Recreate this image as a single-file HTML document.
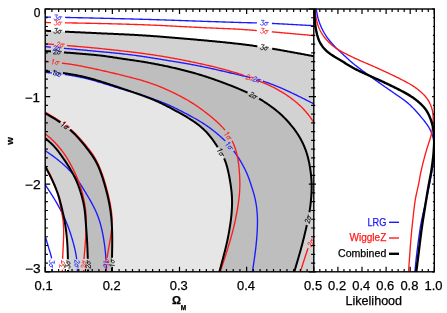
<!DOCTYPE html>
<html><head><meta charset="utf-8"><title>chart</title>
<style>html,body{margin:0;padding:0;background:#fff;}body{width:447px;height:313px;overflow:hidden;font-family:"Liberation Sans",sans-serif;}</style></head>
<body>
<svg width="447" height="313" viewBox="0 0 447 313" style="display:block;will-change:transform">
<rect width="447" height="313" fill="#fff"/>
<defs><clipPath id="cm"><rect x="45.2" y="9.0" width="268.6" height="262.8"/></clipPath><clipPath id="cr"><rect x="313.8" y="9.0" width="120.5" height="262.8"/></clipPath></defs>
<g clip-path="url(#cm)">
<path d="M45.00 30.75 L46.00 30.80 L47.00 30.84 L48.00 30.89 L49.00 30.93 L49.99 30.98 L50.99 31.03 L51.99 31.07 L52.99 31.12 L53.99 31.16 L54.99 31.21 L55.99 31.26 L56.99 31.30 L57.99 31.35 L58.99 31.39 L59.98 31.44 L60.98 31.49 L61.98 31.53 L62.98 31.58 L63.98 31.62 L64.98 31.67 L65.98 31.72 L66.98 31.76 L67.98 31.81 L68.97 31.85 L69.97 31.90 L70.97 31.95 L71.97 31.99 L72.97 32.04 L73.97 32.09 L74.97 32.13 L75.97 32.18 L76.97 32.22 L77.96 32.27 L78.96 32.32 L79.96 32.36 L80.96 32.41 L81.96 32.46 L82.96 32.50 L83.96 32.55 L84.96 32.60 L85.96 32.64 L86.96 32.69 L87.95 32.73 L88.95 32.78 L89.95 32.83 L90.95 32.87 L91.95 32.92 L92.95 32.97 L93.95 33.01 L94.95 33.06 L95.95 33.11 L96.94 33.15 L97.94 33.20 L98.94 33.25 L99.94 33.29 L100.94 33.34 L101.94 33.38 L102.94 33.43 L103.94 33.48 L104.94 33.52 L105.94 33.56 L106.93 33.61 L107.93 33.65 L108.93 33.70 L109.93 33.74 L110.93 33.78 L111.93 33.83 L112.93 33.87 L113.93 33.91 L114.93 33.96 L115.93 34.00 L116.92 34.04 L117.92 34.09 L118.92 34.13 L119.92 34.17 L120.92 34.22 L121.92 34.26 L122.92 34.31 L123.92 34.35 L124.92 34.40 L125.92 34.45 L126.91 34.49 L127.91 34.54 L128.91 34.59 L129.91 34.64 L130.91 34.69 L131.91 34.74 L132.91 34.80 L133.91 34.85 L134.90 34.90 L135.90 34.96 L136.90 35.02 L137.90 35.08 L138.90 35.13 L139.90 35.19 L140.89 35.26 L141.89 35.32 L142.89 35.38 L143.89 35.45 L144.88 35.51 L145.88 35.58 L146.88 35.65 L147.88 35.71 L148.88 35.78 L149.87 35.85 L150.87 35.92 L151.87 36.00 L152.87 36.07 L153.86 36.14 L154.86 36.22 L155.86 36.29 L156.85 36.37 L157.85 36.44 L158.85 36.52 L159.85 36.60 L160.84 36.67 L161.84 36.75 L162.84 36.83 L163.83 36.91 L164.83 36.99 L165.83 37.07 L166.82 37.15 L167.82 37.23 L168.82 37.31 L169.81 37.40 L170.81 37.48 L171.81 37.56 L172.80 37.64 L173.80 37.73 L174.80 37.81 L175.79 37.89 L176.79 37.98 L177.79 38.06 L178.78 38.15 L179.78 38.23 L180.77 38.32 L181.77 38.40 L182.77 38.49 L183.76 38.57 L184.76 38.66 L185.76 38.75 L186.75 38.83 L187.75 38.92 L188.74 39.01 L189.74 39.09 L190.74 39.18 L191.73 39.27 L192.73 39.36 L193.73 39.44 L194.72 39.53 L195.72 39.62 L196.71 39.71 L197.71 39.80 L198.71 39.89 L199.70 39.98 L200.70 40.07 L201.69 40.16 L202.69 40.25 L203.69 40.34 L204.68 40.43 L205.68 40.52 L206.67 40.61 L207.67 40.70 L208.67 40.79 L209.66 40.88 L210.66 40.98 L211.65 41.07 L212.65 41.16 L213.64 41.26 L214.64 41.35 L215.63 41.44 L216.63 41.54 L217.63 41.64 L218.62 41.73 L219.62 41.83 L220.61 41.93 L221.61 42.03 L222.60 42.13 L223.60 42.23 L224.59 42.33 L225.59 42.43 L226.58 42.53 L227.58 42.64 L228.57 42.74 L229.56 42.85 L230.56 42.95 L231.55 43.06 L232.55 43.17 L233.54 43.28 L234.53 43.39 L235.53 43.50 L236.52 43.62 L237.51 43.73 L238.51 43.85 L239.50 43.96 L240.49 44.08 L241.49 44.20 L242.48 44.32 L243.47 44.44 L244.46 44.57 L245.46 44.69 L246.45 44.82 L247.44 44.95 L248.43 45.08 L249.42 45.21 L250.41 45.34 L251.40 45.48 L252.40 45.61 L253.39 45.75 L254.38 45.89 L255.37 46.03 L256.36 46.18 L257.34 46.32 L258.33 46.47 L259.32 46.62 L260.31 46.77 L261.30 46.92 L262.29 47.07 L263.28 47.22 L264.26 47.38 L265.25 47.53 L266.24 47.69 L267.23 47.85 L268.21 48.01 L269.20 48.17 L270.19 48.34 L271.17 48.50 L272.16 48.67 L273.15 48.83 L274.13 49.00 L275.12 49.17 L276.10 49.34 L277.09 49.51 L278.07 49.68 L279.06 49.85 L280.04 50.02 L281.03 50.20 L282.01 50.37 L283.00 50.55 L283.98 50.72 L284.97 50.90 L285.95 51.08 L286.93 51.25 L287.92 51.43 L288.90 51.61 L289.89 51.79 L290.87 51.97 L291.85 52.15 L292.84 52.33 L293.82 52.51 L294.80 52.69 L295.79 52.87 L296.77 53.05 L297.75 53.23 L298.74 53.42 L299.72 53.60 L300.70 53.78 L301.68 53.96 L302.66 54.14 L303.64 54.32 L304.62 54.50 L305.59 54.68 L306.57 54.86 L307.54 55.04 L308.51 55.22 L309.47 55.40 L310.44 55.58 L311.40 55.76 L312.36 55.93 L313.32 56.11 L313.80 56.20 L330.00 56.00 L330.00 290.00 L67.30 290.00 L68.00 272.00 L68.00 272.00 L67.99 271.03 L67.99 270.06 L67.98 269.09 L67.97 268.11 L67.97 267.13 L67.96 266.15 L67.95 265.17 L67.94 264.18 L67.93 263.20 L67.92 262.20 L67.91 261.21 L67.90 260.22 L67.88 259.22 L67.86 258.22 L67.85 257.22 L67.82 256.23 L67.80 255.23 L67.77 254.23 L67.74 253.23 L67.71 252.23 L67.68 251.23 L67.64 250.23 L67.59 249.23 L67.55 248.23 L67.50 247.23 L67.44 246.24 L67.39 245.24 L67.32 244.24 L67.26 243.24 L67.19 242.25 L67.12 241.25 L67.04 240.25 L66.96 239.26 L66.87 238.26 L66.78 237.26 L66.69 236.27 L66.59 235.27 L66.48 234.28 L66.38 233.29 L66.26 232.29 L66.14 231.30 L66.02 230.31 L65.89 229.32 L65.76 228.33 L65.62 227.34 L65.48 226.35 L65.33 225.36 L65.17 224.37 L65.01 223.39 L64.84 222.40 L64.67 221.42 L64.49 220.43 L64.31 219.45 L64.12 218.47 L63.92 217.49 L63.72 216.51 L63.52 215.53 L63.31 214.56 L63.09 213.58 L62.87 212.60 L62.65 211.63 L62.43 210.65 L62.20 209.68 L61.97 208.71 L61.74 207.74 L61.50 206.76 L61.27 205.79 L61.03 204.82 L60.78 203.85 L60.54 202.88 L60.29 201.92 L60.03 200.95 L59.77 199.99 L59.50 199.03 L59.22 198.07 L58.94 197.11 L58.64 196.16 L58.33 195.21 L58.02 194.26 L57.69 193.32 L57.36 192.38 L57.01 191.45 L56.65 190.52 L56.29 189.59 L55.92 188.66 L55.54 187.74 L55.15 186.81 L54.76 185.89 L54.37 184.98 L53.96 184.06 L53.56 183.15 L53.15 182.24 L52.73 181.33 L52.31 180.43 L51.88 179.52 L51.45 178.62 L51.01 177.72 L50.57 176.83 L50.12 175.93 L49.67 175.04 L49.22 174.15 L48.76 173.26 L48.29 172.38 L47.83 171.49 L47.36 170.61 L46.89 169.72 L46.42 168.84 L45.95 167.96 L45.47 167.08 L45.00 166.20Z" fill="#d2d2d2"/>
<path d="M45.00 51.00 L46.00 51.07 L46.99 51.15 L47.99 51.22 L48.99 51.30 L49.99 51.37 L50.98 51.45 L51.98 51.52 L52.98 51.60 L53.97 51.67 L54.97 51.75 L55.97 51.82 L56.97 51.89 L57.96 51.97 L58.96 52.04 L59.96 52.12 L60.96 52.19 L61.95 52.27 L62.95 52.34 L63.95 52.41 L64.94 52.49 L65.94 52.56 L66.94 52.64 L67.94 52.71 L68.93 52.79 L69.93 52.87 L70.93 52.94 L71.92 53.02 L72.92 53.10 L73.92 53.17 L74.92 53.25 L75.91 53.33 L76.91 53.41 L77.91 53.48 L78.90 53.56 L79.90 53.64 L80.90 53.72 L81.89 53.80 L82.89 53.89 L83.89 53.97 L84.88 54.05 L85.88 54.14 L86.88 54.22 L87.87 54.31 L88.87 54.40 L89.86 54.49 L90.86 54.58 L91.86 54.67 L92.85 54.77 L93.85 54.86 L94.84 54.96 L95.84 55.06 L96.83 55.17 L97.82 55.27 L98.82 55.38 L99.81 55.50 L100.80 55.61 L101.80 55.73 L102.79 55.86 L103.78 55.98 L104.77 56.11 L105.76 56.24 L106.75 56.38 L107.74 56.52 L108.73 56.66 L109.72 56.80 L110.71 56.95 L111.70 57.10 L112.69 57.25 L113.68 57.40 L114.67 57.55 L115.66 57.70 L116.64 57.85 L117.63 58.01 L118.62 58.16 L119.61 58.31 L120.60 58.46 L121.59 58.61 L122.58 58.75 L123.56 58.90 L124.55 59.04 L125.54 59.19 L126.53 59.33 L127.52 59.48 L128.51 59.62 L129.50 59.76 L130.49 59.90 L131.48 60.05 L132.47 60.19 L133.46 60.33 L134.45 60.48 L135.44 60.63 L136.43 60.77 L137.42 60.92 L138.41 61.07 L139.39 61.23 L140.38 61.38 L141.37 61.54 L142.36 61.70 L143.34 61.86 L144.33 62.02 L145.32 62.19 L146.30 62.36 L147.29 62.53 L148.27 62.70 L149.26 62.87 L150.24 63.05 L151.22 63.23 L152.21 63.41 L153.19 63.59 L154.17 63.77 L155.16 63.96 L156.14 64.15 L157.12 64.34 L158.10 64.53 L159.08 64.72 L160.06 64.92 L161.04 65.11 L162.02 65.31 L163.00 65.51 L163.98 65.71 L164.96 65.92 L165.94 66.13 L166.92 66.33 L167.90 66.54 L168.87 66.76 L169.85 66.97 L170.83 67.19 L171.80 67.41 L172.78 67.63 L173.75 67.86 L174.72 68.08 L175.70 68.31 L176.67 68.54 L177.64 68.77 L178.62 69.01 L179.59 69.24 L180.56 69.48 L181.53 69.73 L182.50 69.97 L183.47 70.21 L184.44 70.46 L185.40 70.71 L186.37 70.96 L187.34 71.22 L188.31 71.47 L189.27 71.73 L190.24 71.99 L191.20 72.25 L192.17 72.52 L193.13 72.78 L194.09 73.05 L195.06 73.32 L196.02 73.60 L196.98 73.87 L197.94 74.15 L198.90 74.44 L199.86 74.72 L200.81 75.01 L201.77 75.30 L202.72 75.60 L203.68 75.90 L204.63 76.20 L205.58 76.50 L206.53 76.81 L207.48 77.12 L208.43 77.44 L209.38 77.76 L210.33 78.08 L211.27 78.41 L212.22 78.73 L213.16 79.06 L214.10 79.40 L215.05 79.73 L215.99 80.07 L216.93 80.40 L217.87 80.74 L218.81 81.08 L219.75 81.43 L220.69 81.77 L221.63 82.12 L222.56 82.46 L223.50 82.81 L224.44 83.16 L225.37 83.51 L226.31 83.87 L227.24 84.22 L228.18 84.58 L229.11 84.94 L230.04 85.30 L230.97 85.66 L231.90 86.03 L232.83 86.40 L233.76 86.77 L234.69 87.15 L235.62 87.52 L236.54 87.90 L237.46 88.29 L238.39 88.67 L239.31 89.06 L240.23 89.45 L241.15 89.85 L242.06 90.25 L242.98 90.65 L243.89 91.05 L244.81 91.46 L245.72 91.87 L246.63 92.28 L247.53 92.70 L248.44 93.13 L249.34 93.55 L250.24 93.99 L251.14 94.42 L252.04 94.87 L252.93 95.32 L253.82 95.77 L254.71 96.23 L255.59 96.70 L256.47 97.18 L257.34 97.66 L258.21 98.15 L259.08 98.65 L259.94 99.15 L260.80 99.66 L261.65 100.18 L262.50 100.70 L263.35 101.24 L264.19 101.77 L265.03 102.32 L265.86 102.87 L266.69 103.42 L267.52 103.98 L268.34 104.55 L269.16 105.12 L269.98 105.70 L270.79 106.29 L271.59 106.87 L272.40 107.47 L273.20 108.07 L273.99 108.67 L274.78 109.28 L275.57 109.90 L276.35 110.53 L277.12 111.16 L277.89 111.80 L278.65 112.44 L279.40 113.09 L280.15 113.75 L280.89 114.42 L281.63 115.10 L282.36 115.78 L283.08 116.47 L283.79 117.17 L284.50 117.87 L285.19 118.59 L285.89 119.31 L286.57 120.03 L287.25 120.77 L287.92 121.51 L288.58 122.25 L289.24 123.01 L289.89 123.76 L290.53 124.53 L291.17 125.29 L291.81 126.07 L292.43 126.84 L293.05 127.63 L293.66 128.42 L294.26 129.21 L294.86 130.01 L295.45 130.82 L296.03 131.63 L296.59 132.45 L297.15 133.27 L297.70 134.11 L298.24 134.95 L298.76 135.79 L299.28 136.65 L299.78 137.51 L300.27 138.37 L300.75 139.25 L301.23 140.12 L301.69 141.01 L302.14 141.90 L302.58 142.79 L303.01 143.69 L303.43 144.60 L303.83 145.51 L304.23 146.42 L304.61 147.34 L304.98 148.27 L305.34 149.20 L305.69 150.13 L306.02 151.07 L306.34 152.02 L306.65 152.96 L306.94 153.92 L307.23 154.87 L307.50 155.83 L307.76 156.79 L308.01 157.76 L308.25 158.73 L308.49 159.70 L308.71 160.67 L308.92 161.65 L309.12 162.63 L309.32 163.61 L309.50 164.59 L309.68 165.57 L309.85 166.55 L310.01 167.54 L310.17 168.53 L310.31 169.51 L310.45 170.50 L310.59 171.49 L310.71 172.49 L310.83 173.48 L310.94 174.47 L311.05 175.46 L311.15 176.46 L311.24 177.45 L311.32 178.45 L311.40 179.44 L311.47 180.44 L311.52 181.44 L311.57 182.43 L311.61 183.43 L311.64 184.43 L311.66 185.43 L311.67 186.42 L311.67 187.42 L311.66 188.42 L311.64 189.42 L311.62 190.42 L311.58 191.41 L311.53 192.41 L311.48 193.41 L311.42 194.41 L311.36 195.40 L311.29 196.40 L311.21 197.40 L311.13 198.39 L311.04 199.39 L310.95 200.38 L310.85 201.38 L310.75 202.37 L310.65 203.37 L310.53 204.36 L310.42 205.35 L310.29 206.34 L310.16 207.34 L310.03 208.33 L309.89 209.31 L309.74 210.30 L309.58 211.29 L309.42 212.28 L309.25 213.26 L309.07 214.24 L308.89 215.23 L308.71 216.21 L308.52 217.19 L308.32 218.17 L308.12 219.15 L307.91 220.13 L307.71 221.11 L307.50 222.08 L307.28 223.06 L307.07 224.04 L306.85 225.01 L306.63 225.99 L306.41 226.96 L306.18 227.94 L305.96 228.91 L305.73 229.89 L305.51 230.86 L305.28 231.83 L305.05 232.81 L304.82 233.78 L304.58 234.75 L304.35 235.72 L304.11 236.69 L303.87 237.67 L303.63 238.64 L303.39 239.61 L303.15 240.58 L302.90 241.55 L302.65 242.51 L302.40 243.48 L302.15 244.45 L301.89 245.42 L301.63 246.38 L301.37 247.35 L301.11 248.31 L300.85 249.28 L300.58 250.24 L300.31 251.20 L300.04 252.17 L299.77 253.13 L299.50 254.09 L299.22 255.05 L298.95 256.01 L298.67 256.97 L298.39 257.93 L298.11 258.89 L297.83 259.85 L297.55 260.80 L297.27 261.75 L296.99 262.70 L296.71 263.65 L296.43 264.59 L296.15 265.53 L295.87 266.47 L295.59 267.40 L295.31 268.32 L295.03 269.25 L294.75 270.17 L294.48 271.08 L294.20 272.00 L294.20 272.00 L294.00 290.00 L87.50 290.00 L88.00 272.00 L87.99 271.52 L87.98 270.56 L87.97 269.61 L87.96 268.64 L87.94 267.68 L87.93 266.71 L87.91 265.74 L87.90 264.76 L87.88 263.78 L87.86 262.79 L87.84 261.80 L87.82 260.81 L87.80 259.82 L87.77 258.82 L87.75 257.82 L87.72 256.83 L87.69 255.83 L87.66 254.83 L87.63 253.83 L87.59 252.83 L87.56 251.83 L87.52 250.83 L87.48 249.83 L87.44 248.83 L87.40 247.83 L87.36 246.84 L87.31 245.84 L87.27 244.84 L87.22 243.84 L87.17 242.84 L87.11 241.84 L87.06 240.84 L87.00 239.85 L86.94 238.85 L86.88 237.85 L86.82 236.85 L86.75 235.85 L86.69 234.86 L86.62 233.86 L86.55 232.86 L86.48 231.86 L86.41 230.87 L86.33 229.87 L86.26 228.87 L86.19 227.87 L86.11 226.88 L86.04 225.88 L85.96 224.88 L85.89 223.88 L85.82 222.89 L85.74 221.89 L85.67 220.89 L85.59 219.90 L85.51 218.90 L85.43 217.90 L85.35 216.91 L85.27 215.91 L85.18 214.92 L85.08 213.92 L84.98 212.93 L84.88 211.93 L84.76 210.94 L84.63 209.95 L84.50 208.96 L84.35 207.98 L84.20 206.99 L84.03 206.01 L83.85 205.03 L83.66 204.05 L83.46 203.07 L83.24 202.10 L83.02 201.13 L82.79 200.15 L82.55 199.19 L82.30 198.22 L82.04 197.25 L81.78 196.29 L81.51 195.33 L81.24 194.37 L80.96 193.41 L80.67 192.45 L80.37 191.50 L80.07 190.55 L79.76 189.60 L79.44 188.65 L79.11 187.71 L78.78 186.77 L78.43 185.83 L78.08 184.90 L77.71 183.97 L77.34 183.04 L76.95 182.12 L76.56 181.21 L76.15 180.30 L75.74 179.39 L75.31 178.48 L74.88 177.58 L74.44 176.69 L73.99 175.80 L73.53 174.91 L73.07 174.03 L72.59 173.15 L72.11 172.27 L71.62 171.40 L71.13 170.53 L70.62 169.67 L70.11 168.81 L69.59 167.96 L69.07 167.11 L68.54 166.26 L68.00 165.42 L67.46 164.58 L66.91 163.74 L66.36 162.91 L65.81 162.08 L65.25 161.25 L64.69 160.42 L64.13 159.60 L63.56 158.77 L63.00 157.95 L62.43 157.13 L61.86 156.31 L61.28 155.49 L60.70 154.68 L60.11 153.87 L59.52 153.06 L58.93 152.26 L58.32 151.47 L57.71 150.68 L57.09 149.90 L56.46 149.13 L55.82 148.37 L55.17 147.61 L54.51 146.87 L53.84 146.13 L53.15 145.41 L52.46 144.70 L51.75 144.00 L51.03 143.31 L50.30 142.63 L49.57 141.97 L48.82 141.31 L48.06 140.66 L47.30 140.01 L46.54 139.37 L45.77 138.73 L45.00 138.10Z" fill="#bebebe"/>
<path d="M45.00 71.10 L45.99 71.20 L46.99 71.31 L47.98 71.41 L48.98 71.52 L49.97 71.62 L50.97 71.73 L51.96 71.83 L52.96 71.94 L53.95 72.05 L54.94 72.15 L55.94 72.26 L56.93 72.37 L57.93 72.49 L58.92 72.60 L59.91 72.72 L60.91 72.83 L61.90 72.95 L62.89 73.08 L63.88 73.20 L64.87 73.34 L65.86 73.47 L66.85 73.61 L67.84 73.75 L68.83 73.90 L69.82 74.05 L70.81 74.21 L71.79 74.37 L72.78 74.54 L73.76 74.71 L74.75 74.89 L75.73 75.07 L76.71 75.26 L77.69 75.45 L78.67 75.65 L79.65 75.86 L80.63 76.07 L81.60 76.28 L82.58 76.50 L83.55 76.73 L84.52 76.96 L85.49 77.20 L86.46 77.44 L87.43 77.68 L88.40 77.93 L89.37 78.19 L90.33 78.45 L91.30 78.71 L92.26 78.98 L93.22 79.26 L94.18 79.53 L95.14 79.81 L96.10 80.10 L97.06 80.38 L98.01 80.67 L98.97 80.96 L99.93 81.26 L100.88 81.55 L101.84 81.85 L102.79 82.15 L103.74 82.45 L104.70 82.76 L105.65 83.06 L106.60 83.37 L107.55 83.68 L108.50 83.99 L109.45 84.30 L110.40 84.61 L111.35 84.92 L112.30 85.24 L113.25 85.55 L114.20 85.87 L115.15 86.19 L116.09 86.51 L117.04 86.82 L117.99 87.14 L118.94 87.46 L119.89 87.78 L120.83 88.10 L121.78 88.41 L122.73 88.73 L123.68 89.05 L124.63 89.37 L125.58 89.69 L126.52 90.00 L127.47 90.32 L128.42 90.64 L129.37 90.96 L130.31 91.28 L131.26 91.60 L132.21 91.92 L133.15 92.24 L134.10 92.57 L135.05 92.89 L135.99 93.22 L136.93 93.55 L137.88 93.88 L138.82 94.22 L139.76 94.55 L140.70 94.89 L141.64 95.23 L142.58 95.58 L143.52 95.92 L144.46 96.27 L145.39 96.62 L146.33 96.97 L147.26 97.33 L148.20 97.69 L149.13 98.05 L150.06 98.42 L150.99 98.79 L151.91 99.16 L152.84 99.54 L153.76 99.92 L154.68 100.31 L155.60 100.71 L156.52 101.11 L157.43 101.51 L158.34 101.92 L159.25 102.34 L160.16 102.76 L161.06 103.18 L161.96 103.61 L162.86 104.05 L163.76 104.49 L164.66 104.93 L165.55 105.38 L166.44 105.84 L167.33 106.29 L168.22 106.75 L169.10 107.22 L169.99 107.68 L170.87 108.15 L171.75 108.62 L172.63 109.10 L173.51 109.58 L174.39 110.05 L175.26 110.54 L176.14 111.02 L177.02 111.50 L177.89 111.99 L178.76 112.48 L179.63 112.97 L180.51 113.46 L181.38 113.95 L182.24 114.44 L183.11 114.94 L183.98 115.44 L184.84 115.95 L185.70 116.45 L186.56 116.96 L187.42 117.48 L188.27 117.99 L189.13 118.52 L189.97 119.05 L190.82 119.58 L191.66 120.12 L192.49 120.67 L193.32 121.22 L194.15 121.78 L194.97 122.35 L195.78 122.93 L196.59 123.52 L197.39 124.11 L198.18 124.72 L198.97 125.33 L199.74 125.96 L200.51 126.59 L201.27 127.24 L202.03 127.89 L202.77 128.56 L203.50 129.23 L204.22 129.92 L204.93 130.61 L205.64 131.32 L206.33 132.04 L207.01 132.76 L207.68 133.50 L208.33 134.25 L208.98 135.01 L209.62 135.77 L210.24 136.55 L210.86 137.34 L211.46 138.13 L212.06 138.93 L212.65 139.73 L213.23 140.54 L213.80 141.36 L214.37 142.18 L214.93 143.01 L215.49 143.84 L216.05 144.67 L216.60 145.50 L217.15 146.33 L217.70 147.17 L218.24 148.01 L218.79 148.85 L219.32 149.69 L219.85 150.53 L220.38 151.38 L220.89 152.23 L221.40 153.09 L221.89 153.96 L222.37 154.83 L222.83 155.71 L223.28 156.59 L223.71 157.48 L224.12 158.39 L224.51 159.30 L224.89 160.22 L225.24 161.14 L225.58 162.08 L225.90 163.02 L226.21 163.96 L226.50 164.91 L226.78 165.87 L227.04 166.83 L227.30 167.79 L227.55 168.76 L227.79 169.73 L228.02 170.70 L228.24 171.67 L228.46 172.65 L228.67 173.63 L228.87 174.60 L229.07 175.58 L229.26 176.56 L229.45 177.55 L229.62 178.53 L229.80 179.51 L229.97 180.50 L230.13 181.48 L230.29 182.47 L230.44 183.46 L230.59 184.45 L230.74 185.44 L230.88 186.43 L231.01 187.42 L231.14 188.41 L231.27 189.40 L231.38 190.39 L231.49 191.38 L231.59 192.38 L231.69 193.37 L231.77 194.36 L231.84 195.36 L231.90 196.35 L231.96 197.35 L232.00 198.35 L232.03 199.35 L232.05 200.34 L232.06 201.34 L232.06 202.34 L232.06 203.34 L232.04 204.34 L232.02 205.34 L231.98 206.33 L231.94 207.33 L231.90 208.33 L231.84 209.33 L231.78 210.33 L231.72 211.32 L231.64 212.32 L231.56 213.32 L231.48 214.31 L231.38 215.31 L231.28 216.30 L231.18 217.29 L231.06 218.29 L230.95 219.28 L230.82 220.27 L230.69 221.26 L230.56 222.25 L230.42 223.24 L230.28 224.23 L230.13 225.22 L229.98 226.21 L229.82 227.19 L229.66 228.18 L229.50 229.17 L229.33 230.15 L229.16 231.14 L228.99 232.12 L228.81 233.11 L228.63 234.09 L228.45 235.07 L228.26 236.06 L228.07 237.04 L227.87 238.02 L227.68 239.00 L227.47 239.98 L227.27 240.95 L227.05 241.93 L226.84 242.91 L226.62 243.88 L226.39 244.86 L226.16 245.83 L225.93 246.80 L225.70 247.77 L225.46 248.75 L225.22 249.72 L224.97 250.69 L224.73 251.65 L224.48 252.62 L224.23 253.59 L223.98 254.56 L223.73 255.53 L223.47 256.49 L223.22 257.46 L222.96 258.42 L222.71 259.38 L222.45 260.35 L222.20 261.30 L221.94 262.26 L221.68 263.21 L221.43 264.16 L221.17 265.10 L220.92 266.04 L220.67 266.97 L220.42 267.89 L220.17 268.81 L219.92 269.73 L219.67 270.64 L219.42 271.55 L219.30 272.00 L220.00 290.00 L112.00 290.00 L112.00 272.00 L112.00 271.51 L112.00 270.54 L112.00 269.56 L111.99 268.59 L111.99 267.61 L111.99 266.63 L111.99 265.64 L111.99 264.66 L112.00 263.67 L112.00 262.68 L112.00 261.68 L112.01 260.69 L112.02 259.69 L112.02 258.69 L112.03 257.70 L112.05 256.70 L112.06 255.70 L112.07 254.70 L112.09 253.70 L112.10 252.70 L112.12 251.70 L112.14 250.70 L112.15 249.70 L112.17 248.70 L112.19 247.70 L112.20 246.70 L112.21 245.70 L112.22 244.70 L112.23 243.70 L112.24 242.70 L112.24 241.70 L112.24 240.70 L112.24 239.70 L112.24 238.70 L112.23 237.70 L112.22 236.70 L112.21 235.70 L112.19 234.70 L112.17 233.70 L112.15 232.70 L112.12 231.70 L112.09 230.70 L112.05 229.71 L112.02 228.71 L111.97 227.71 L111.93 226.71 L111.88 225.71 L111.82 224.71 L111.76 223.72 L111.69 222.72 L111.62 221.72 L111.55 220.72 L111.47 219.73 L111.38 218.73 L111.28 217.74 L111.19 216.74 L111.08 215.75 L110.97 214.76 L110.85 213.76 L110.73 212.77 L110.60 211.78 L110.46 210.79 L110.32 209.80 L110.17 208.81 L110.01 207.83 L109.85 206.84 L109.68 205.86 L109.50 204.87 L109.32 203.89 L109.13 202.91 L108.94 201.93 L108.74 200.95 L108.53 199.97 L108.32 199.00 L108.10 198.02 L107.88 197.05 L107.65 196.07 L107.42 195.10 L107.18 194.13 L106.94 193.16 L106.69 192.19 L106.44 191.22 L106.19 190.26 L105.93 189.29 L105.67 188.33 L105.40 187.36 L105.13 186.40 L104.86 185.44 L104.58 184.48 L104.30 183.52 L104.02 182.56 L103.73 181.60 L103.44 180.64 L103.14 179.69 L102.84 178.74 L102.54 177.78 L102.23 176.83 L101.91 175.89 L101.59 174.94 L101.27 174.00 L100.93 173.05 L100.59 172.12 L100.24 171.18 L99.88 170.25 L99.52 169.32 L99.14 168.40 L98.75 167.48 L98.36 166.56 L97.94 165.66 L97.52 164.76 L97.08 163.86 L96.63 162.97 L96.17 162.09 L95.69 161.22 L95.20 160.35 L94.70 159.49 L94.18 158.64 L93.65 157.80 L93.11 156.96 L92.56 156.13 L92.01 155.30 L91.44 154.48 L90.86 153.66 L90.28 152.85 L89.69 152.05 L89.10 151.24 L88.50 150.44 L87.89 149.65 L87.29 148.85 L86.68 148.06 L86.06 147.27 L85.44 146.49 L84.82 145.70 L84.20 144.92 L83.57 144.15 L82.94 143.37 L82.30 142.60 L81.66 141.83 L81.02 141.07 L80.37 140.31 L79.71 139.55 L79.05 138.80 L78.39 138.06 L77.72 137.32 L77.04 136.58 L76.36 135.85 L75.67 135.13 L74.97 134.42 L74.27 133.71 L73.55 133.02 L72.83 132.33 L72.10 131.65 L71.37 130.98 L70.62 130.31 L69.87 129.66 L69.11 129.01 L68.34 128.38 L67.56 127.75 L66.78 127.13 L65.99 126.52 L65.20 125.92 L64.40 125.32 L63.59 124.73 L62.78 124.15 L61.96 123.57 L61.14 123.01 L60.31 122.44 L59.48 121.89 L58.65 121.34 L57.81 120.79 L56.97 120.25 L56.13 119.72 L55.28 119.19 L54.43 118.66 L53.58 118.14 L52.73 117.62 L51.87 117.10 L51.01 116.58 L50.16 116.07 L49.30 115.55 L48.44 115.04 L47.58 114.53 L46.72 114.02 L45.86 113.51 L45.00 113.00Z" fill="#e6e6e6"/>
<path d="M45.00 17.00 L46.00 17.02 L47.00 17.04 L48.00 17.06 L49.00 17.09 L50.00 17.11 L51.00 17.13" fill="none" stroke="#1a1aff" stroke-width="1.35" stroke-linejoin="round"/>
<path d="M65.00 17.43 L66.00 17.45 L67.00 17.47 L67.99 17.49 L68.99 17.51 L69.99 17.53 L70.99 17.55 L71.99 17.58 L72.99 17.60 L73.99 17.62 L74.99 17.64 L75.99 17.66 L76.99 17.68 L77.99 17.71 L78.99 17.73 L79.99 17.75 L80.99 17.77 L81.99 17.79 L82.99 17.81 L83.99 17.84 L84.99 17.86 L85.99 17.88 L86.99 17.90 L87.99 17.93 L88.99 17.95 L89.99 17.97 L90.99 17.99 L91.99 18.02 L92.99 18.04 L93.99 18.06 L94.99 18.08 L95.99 18.11 L96.99 18.13 L97.99 18.15 L98.99 18.18 L99.99 18.20 L100.99 18.22 L101.99 18.25 L102.99 18.27 L103.99 18.30 L104.99 18.32 L105.99 18.34 L106.98 18.37 L107.98 18.39 L108.98 18.42 L109.98 18.44 L110.98 18.46 L111.98 18.49 L112.98 18.51 L113.98 18.54 L114.98 18.56 L115.98 18.59 L116.98 18.61 L117.98 18.64 L118.98 18.66 L119.98 18.69 L120.98 18.71 L121.98 18.74 L122.98 18.76 L123.98 18.79 L124.98 18.81 L125.98 18.84 L126.98 18.86 L127.98 18.89 L128.98 18.92 L129.98 18.94 L130.98 18.97 L131.98 19.00 L132.98 19.02 L133.98 19.05 L134.98 19.08 L135.98 19.10 L136.98 19.13 L137.97 19.16 L138.97 19.19 L139.97 19.21 L140.97 19.24 L141.97 19.27 L142.97 19.30 L143.97 19.33 L144.97 19.36 L145.97 19.39 L146.97 19.41 L147.97 19.44 L148.97 19.47 L149.97 19.50 L150.97 19.53 L151.97 19.56 L152.97 19.60 L153.97 19.63 L154.97 19.66 L155.97 19.69 L156.97 19.72 L157.97 19.75 L158.97 19.79 L159.96 19.82 L160.96 19.85 L161.96 19.88 L162.96 19.92 L163.96 19.95 L164.96 19.98 L165.96 20.02 L166.96 20.05 L167.96 20.09 L168.96 20.12 L169.96 20.15 L170.96 20.19 L171.96 20.22 L172.96 20.26 L173.96 20.29 L174.96 20.33 L175.96 20.36 L176.95 20.40 L177.95 20.43 L178.95 20.47 L179.95 20.50 L180.95 20.54 L181.95 20.57 L182.95 20.61 L183.95 20.64 L184.95 20.68 L185.95 20.71 L186.95 20.75 L187.95 20.78 L188.95 20.82 L189.95 20.85 L190.95 20.89 L191.95 20.92 L192.95 20.96 L193.94 20.99 L194.94 21.03 L195.94 21.06 L196.94 21.09 L197.94 21.13 L198.94 21.16 L199.94 21.20 L200.94 21.23 L201.94 21.26 L202.94 21.30 L203.94 21.33 L204.94 21.36 L205.94 21.40 L206.94 21.43 L207.94 21.46 L208.94 21.50 L209.94 21.53 L210.93 21.56 L211.93 21.60 L212.93 21.63 L213.93 21.66 L214.93 21.69 L215.93 21.73 L216.93 21.76 L217.93 21.79 L218.93 21.83 L219.93 21.86 L220.93 21.89 L221.93 21.92 L222.93 21.96 L223.93 21.99 L224.93 22.02 L225.93 22.05 L226.93 22.09 L227.93 22.12 L228.93 22.15 L229.92 22.18 L230.92 22.21 L231.92 22.24 L232.92 22.28 L233.92 22.31 L234.92 22.34 L235.92 22.37 L236.92 22.40 L237.92 22.43 L238.92 22.46 L239.92 22.49 L240.92 22.52 L241.92 22.55 L242.92 22.57 L243.92 22.60 L244.92 22.63 L245.92 22.65 L246.92 22.68 L247.92 22.71 L248.92 22.73 L249.92 22.76 L250.92 22.78 L251.92 22.81 L252.92 22.83 L253.92 22.86 L254.91 22.88 L255.91 22.91 L256.91 22.93" fill="none" stroke="#1a1aff" stroke-width="1.35" stroke-linejoin="round"/>
<path d="M271.90 23.45 L272.90 23.49 L273.90 23.54 L274.90 23.58 L275.90 23.63 L276.90 23.68 L277.90 23.73 L278.90 23.78 L279.90 23.83 L280.89 23.88 L281.89 23.93 L282.89 23.98 L283.89 24.03 L284.89 24.08 L285.89 24.14 L286.89 24.19 L287.88 24.24 L288.88 24.30 L289.88 24.35 L290.88 24.41 L291.88 24.46 L292.88 24.52 L293.88 24.57 L294.87 24.63 L295.87 24.69 L296.87 24.74 L297.87 24.80 L298.87 24.85 L299.87 24.91 L300.86 24.97 L301.86 25.02 L302.86 25.08 L303.86 25.14 L304.85 25.19 L305.85 25.25 L306.84 25.31 L307.84 25.36 L308.83 25.42 L309.83 25.48 L310.82 25.53 L311.81 25.59 L312.81 25.64 L313.80 25.70 L313.80 25.70" fill="none" stroke="#1a1aff" stroke-width="1.35" stroke-linejoin="round"/>

<path d="M45.00 46.60 L46.00 46.69 L46.99 46.78 L47.99 46.87 L48.98 46.96 L49.98 47.05 L50.98 47.14" fill="none" stroke="#1a1aff" stroke-width="1.35" stroke-linejoin="round"/>
<path d="M63.92 48.30 L64.92 48.39 L65.92 48.48 L66.91 48.57 L67.91 48.66 L68.90 48.75 L69.90 48.84 L70.90 48.93 L71.89 49.02 L72.89 49.11 L73.88 49.20 L74.88 49.29 L75.88 49.38 L76.87 49.47 L77.87 49.56 L78.86 49.65 L79.86 49.74 L80.85 49.83 L81.85 49.92 L82.85 50.01 L83.84 50.10 L84.84 50.19 L85.83 50.28 L86.83 50.37 L87.83 50.47 L88.82 50.56 L89.82 50.65 L90.81 50.74 L91.81 50.83 L92.80 50.93 L93.80 51.02 L94.80 51.11 L95.79 51.21 L96.79 51.30 L97.78 51.39 L98.78 51.49 L99.77 51.58 L100.77 51.68 L101.76 51.77 L102.76 51.86 L103.76 51.96 L104.75 52.05 L105.75 52.15 L106.74 52.24 L107.74 52.34 L108.73 52.44 L109.73 52.53 L110.72 52.63 L111.72 52.73 L112.71 52.82 L113.71 52.92 L114.70 53.02 L115.70 53.12 L116.69 53.22 L117.69 53.32 L118.68 53.43 L119.68 53.53 L120.67 53.64 L121.67 53.75 L122.66 53.86 L123.65 53.97 L124.65 54.08 L125.64 54.19 L126.63 54.31 L127.63 54.43 L128.62 54.55 L129.61 54.67 L130.60 54.79 L131.60 54.92 L132.59 55.05 L133.58 55.18 L134.57 55.31 L135.56 55.45 L136.55 55.58 L137.54 55.72 L138.53 55.86 L139.52 56.00 L140.51 56.15 L141.50 56.29 L142.49 56.44 L143.48 56.59 L144.47 56.74 L145.46 56.89 L146.44 57.04 L147.43 57.19 L148.42 57.35 L149.41 57.51 L150.40 57.66 L151.38 57.82 L152.37 57.98 L153.36 58.14 L154.34 58.30 L155.33 58.46 L156.32 58.62 L157.31 58.78 L158.29 58.94 L159.28 59.11 L160.27 59.27 L161.25 59.43 L162.24 59.59 L163.23 59.75 L164.21 59.91 L165.20 60.07 L166.19 60.24 L167.17 60.40 L168.16 60.56 L169.15 60.72 L170.14 60.88 L171.12 61.04 L172.11 61.20 L173.10 61.36 L174.08 61.52 L175.07 61.68 L176.06 61.84 L177.05 62.00 L178.03 62.16 L179.02 62.32 L180.01 62.49 L180.99 62.65 L181.98 62.82 L182.96 62.99 L183.95 63.15 L184.93 63.32 L185.92 63.49 L186.90 63.67 L187.89 63.84 L188.87 64.02 L189.86 64.19 L190.84 64.37 L191.83 64.55 L192.81 64.74 L193.79 64.92 L194.77 65.11 L195.76 65.30 L196.74 65.49 L197.72 65.68 L198.70 65.88 L199.68 66.07 L200.66 66.27 L201.64 66.47 L202.62 66.67 L203.60 66.88 L204.58 67.08 L205.55 67.29 L206.53 67.50 L207.51 67.71 L208.49 67.92 L209.46 68.13 L210.44 68.34 L211.42 68.56 L212.39 68.77 L213.37 68.99 L214.35 69.21 L215.32 69.43 L216.30 69.64 L217.27 69.86 L218.25 70.08 L219.22 70.31 L220.20 70.53 L221.18 70.75 L222.15 70.97 L223.12 71.19 L224.10 71.42 L225.07 71.64 L226.05 71.87 L227.02 72.09 L228.00 72.32 L228.97 72.54 L229.95 72.77 L230.92 73.00 L231.89 73.22 L232.87 73.45 L233.84 73.68 L234.81 73.91 L235.79 74.13 L236.76 74.36 L237.74 74.59 L238.71 74.82 L239.68 75.05 L240.66 75.28 L241.63 75.51 L242.60 75.74 L243.57 75.97 L244.55 76.21 L245.52 76.44 L246.49 76.67 L247.46 76.91 L248.43 77.15 L249.40 77.39 L250.37 77.64" fill="none" stroke="#1a1aff" stroke-width="1.35" stroke-linejoin="round"/>
<path d="M262.87 81.18 L263.82 81.49 L264.77 81.80 L265.72 82.11 L266.67 82.43 L267.62 82.75 L268.56 83.08 L269.50 83.42 L270.44 83.76 L271.38 84.10 L272.32 84.45 L273.25 84.81 L274.18 85.17 L275.11 85.54 L276.04 85.91 L276.96 86.28 L277.89 86.67 L278.81 87.05 L279.73 87.44 L280.65 87.84 L281.57 88.24 L282.48 88.64 L283.39 89.04 L284.31 89.45 L285.22 89.87 L286.13 90.28 L287.04 90.70 L287.94 91.12 L288.85 91.54 L289.76 91.96 L290.66 92.39 L291.56 92.82 L292.47 93.25 L293.37 93.68 L294.27 94.11 L295.17 94.54 L296.07 94.98 L296.97 95.42 L297.87 95.86 L298.77 96.29 L299.66 96.74 L300.56 97.18 L301.46 97.62 L302.35 98.06 L303.24 98.51 L304.13 98.95 L305.02 99.40 L305.91 99.84 L306.80 100.28 L307.68 100.73 L308.56 101.17 L309.44 101.61 L310.31 102.05 L311.19 102.49 L312.06 102.92 L312.93 103.36 L313.80 103.80 L313.80 103.80" fill="none" stroke="#1a1aff" stroke-width="1.35" stroke-linejoin="round"/>

<path d="M45.00 72.30 L45.99 72.40 L46.99 72.51 L47.98 72.61 L48.98 72.72 L49.97 72.82 L50.97 72.93 L51.96 73.03" fill="none" stroke="#1a1aff" stroke-width="1.35" stroke-linejoin="round"/>
<path d="M64.87 74.54 L65.86 74.67 L66.85 74.81 L67.84 74.95 L68.83 75.10 L69.82 75.25 L70.81 75.41 L71.79 75.57 L72.78 75.74 L73.76 75.91 L74.74 76.09 L75.73 76.28 L76.71 76.47 L77.69 76.66 L78.67 76.86 L79.65 77.06 L80.62 77.27 L81.60 77.49 L82.58 77.70 L83.55 77.93 L84.52 78.16 L85.50 78.39 L86.47 78.62 L87.44 78.87 L88.41 79.11 L89.37 79.36 L90.34 79.61 L91.31 79.87 L92.27 80.13 L93.24 80.40 L94.20 80.67 L95.16 80.94 L96.12 81.21 L97.09 81.49 L98.05 81.77 L99.00 82.05 L99.96 82.33 L100.92 82.62 L101.88 82.90 L102.84 83.19 L103.79 83.48 L104.75 83.78 L105.71 84.07 L106.66 84.37 L107.62 84.66 L108.57 84.96 L109.52 85.26 L110.48 85.56 L111.43 85.86 L112.39 86.16 L113.34 86.46 L114.29 86.76 L115.25 87.06 L116.20 87.36 L117.16 87.66 L118.11 87.95 L119.07 88.25 L120.02 88.54 L120.98 88.83 L121.94 89.11 L122.90 89.40 L123.86 89.68 L124.82 89.96 L125.78 90.23 L126.74 90.51 L127.70 90.78 L128.66 91.06 L129.62 91.33 L130.59 91.60 L131.55 91.88 L132.51 92.15 L133.47 92.43 L134.43 92.71 L135.39 92.99 L136.35 93.28 L137.30 93.57 L138.26 93.86 L139.21 94.16 L140.17 94.46 L141.12 94.76 L142.07 95.07 L143.02 95.39 L143.96 95.71 L144.91 96.03 L145.86 96.35 L146.80 96.68 L147.74 97.01 L148.69 97.35 L149.63 97.68 L150.57 98.02 L151.51 98.36 L152.45 98.70 L153.39 99.04 L154.33 99.38 L155.27 99.72 L156.21 100.06 L157.15 100.41 L158.09 100.75 L159.03 101.10 L159.96 101.45 L160.90 101.80 L161.83 102.16 L162.76 102.52 L163.69 102.89 L164.61 103.27 L165.54 103.65 L166.45 104.04 L167.37 104.43 L168.29 104.84 L169.20 105.24 L170.11 105.66 L171.01 106.08 L171.92 106.51 L172.82 106.94 L173.72 107.37 L174.62 107.81 L175.51 108.25 L176.41 108.69 L177.30 109.14 L178.20 109.59 L179.09 110.04 L179.98 110.50 L180.87 110.95 L181.76 111.41 L182.65 111.87 L183.54 112.33 L184.42 112.79 L185.31 113.25 L186.19 113.72 L187.08 114.18 L187.96 114.65 L188.84 115.12 L189.73 115.60 L190.61 116.07 L191.49 116.55 L192.36 117.03 L193.24 117.51 L194.11 117.99 L194.99 118.48 L195.86 118.97 L196.73 119.46 L197.59 119.96 L198.46 120.46 L199.32 120.97 L200.18 121.48 L201.03 122.00 L201.88 122.53 L202.73 123.06 L203.57 123.59 L204.41 124.14 L205.24 124.69 L206.06 125.25 L206.89 125.82 L207.70 126.39 L208.52 126.97 L209.32 127.56 L210.13 128.15 L210.93 128.75 L211.72 129.36 L212.51 129.97 L213.30 130.59 L214.08 131.21 L214.86 131.83 L215.63 132.46 L216.41 133.10 L217.18 133.74 L217.94 134.38 L218.70 135.03 L219.46 135.68 L220.21 136.33 L220.96 136.99 L221.71 137.66 L222.45 138.33 L223.18 139.01 L223.91 139.69 L224.63 140.38 L225.34 141.08" fill="none" stroke="#1a1aff" stroke-width="1.35" stroke-linejoin="round"/>
<path d="M233.75 150.93 L234.34 151.73 L234.92 152.55 L235.50 153.36 L236.07 154.18 L236.63 155.01 L237.19 155.84 L237.74 156.67 L238.28 157.51 L238.82 158.35 L239.35 159.20 L239.87 160.05 L240.39 160.90 L240.89 161.76 L241.39 162.63 L241.89 163.50 L242.37 164.37 L242.85 165.25 L243.33 166.13 L243.79 167.01 L244.25 167.90 L244.70 168.79 L245.14 169.68 L245.57 170.58 L246.00 171.49 L246.42 172.39 L246.82 173.30 L247.22 174.22 L247.60 175.14 L247.98 176.06 L248.34 176.99 L248.69 177.92 L249.04 178.86 L249.37 179.80 L249.70 180.74 L250.02 181.68 L250.34 182.63 L250.65 183.58 L250.96 184.53 L251.27 185.48 L251.58 186.43 L251.88 187.38 L252.18 188.33 L252.48 189.28 L252.78 190.24 L253.07 191.19 L253.36 192.15 L253.64 193.11 L253.91 194.07 L254.18 195.03 L254.43 195.99 L254.67 196.96 L254.91 197.93 L255.13 198.90 L255.34 199.88 L255.54 200.86 L255.73 201.84 L255.91 202.82 L256.08 203.80 L256.24 204.79 L256.39 205.77 L256.52 206.76 L256.65 207.75 L256.77 208.74 L256.88 209.74 L256.97 210.73 L257.06 211.72 L257.14 212.72 L257.21 213.72 L257.27 214.71 L257.32 215.71 L257.37 216.71 L257.40 217.70 L257.43 218.70 L257.45 219.70 L257.46 220.70 L257.46 221.70 L257.46 222.70 L257.44 223.70 L257.43 224.70 L257.40 225.70 L257.37 226.69 L257.34 227.69 L257.30 228.69 L257.26 229.69 L257.21 230.69 L257.15 231.69 L257.10 232.69 L257.04 233.68 L256.98 234.68 L256.91 235.68 L256.84 236.68 L256.77 237.67 L256.69 238.67 L256.61 239.67 L256.52 240.66 L256.43 241.66 L256.34 242.65 L256.24 243.65 L256.14 244.64 L256.03 245.64 L255.92 246.63 L255.81 247.62 L255.69 248.62 L255.57 249.61 L255.45 250.60 L255.32 251.59 L255.19 252.59 L255.06 253.58 L254.93 254.57 L254.80 255.56 L254.66 256.55 L254.53 257.54 L254.39 258.52 L254.25 259.51 L254.11 260.49 L253.97 261.48 L253.82 262.45 L253.68 263.43 L253.54 264.40 L253.40 265.37 L253.25 266.33 L253.11 267.28 L252.97 268.23 L252.82 269.18 L252.68 270.12 L252.54 271.06 L252.40 272.00 L252.40 272.00" fill="none" stroke="#1a1aff" stroke-width="1.35" stroke-linejoin="round"/>

<path d="M45.00 150.60 L45.83 151.15 L46.67 151.70 L47.50 152.26 L48.33 152.81 L49.16 153.37 L49.98 153.94 L50.80 154.51 L51.62 155.08 L52.43 155.66 L53.24 156.25 L54.04 156.84 L54.84 157.44 L55.64 158.05 L56.43 158.66 L57.21 159.28 L57.99 159.90 L58.77 160.53 L59.54 161.16 L60.31 161.80 L61.07 162.44 L61.83 163.09 L62.59 163.75 L63.34 164.41 L64.08 165.07 L64.82 165.75 L65.55 166.42 L66.28 167.11 L67.00 167.80 L67.71 168.50 L68.42 169.20 L69.12 169.92 L69.81 170.64 L70.49 171.36 L71.17 172.10 L71.83 172.84 L72.49 173.59 L73.14 174.35 L73.78 175.11 L74.41 175.89 L75.04 176.66 L75.65 177.45 L76.26 178.24 L76.86 179.04 L77.44 179.85 L78.03 180.66 L78.60 181.48 L79.16 182.30 L79.72 183.13 L80.27 183.96 L80.82 184.80 L81.36 185.64 L81.89 186.48 L82.42 187.33 L82.95 188.18 L83.47 189.03 L83.99 189.89 L84.51 190.74 L85.03 191.60 L85.54 192.45 L86.06 193.31 L86.57 194.17 L87.08 195.03 L87.59 195.89 L88.10 196.75 L88.61 197.61 L89.12 198.47 L89.62 199.34 L90.12 200.20 L90.61 201.07 L91.11 201.94 L91.59 202.81 L92.07 203.69 L92.55 204.57 L93.01 205.45 L93.47 206.34 L93.92 207.23 L94.37 208.12 L94.80 209.02 L95.23 209.92 L95.65 210.83 L96.05 211.74 L96.45 212.66 L96.84 213.58 L97.21 214.50 L97.58 215.43 L97.93 216.36 L98.28 217.30 L98.61 218.24 L98.94 219.18 L99.25 220.13 L99.55 221.08 L99.85 222.03 L100.13 222.99 L100.40 223.95 L100.67 224.91 L100.92 225.88 L101.17 226.85 L101.41 227.81 L101.64 228.79 L101.87 229.76 L102.09 230.74 L102.30 231.71 L102.50 232.69 L102.70 233.67 L102.89 234.65 L103.07 235.63 L103.25 236.62 L103.43 237.60 L103.59 238.59 L103.76 239.57 L103.91 240.56 L104.06 241.55 L104.21 242.54 L104.35 243.52 L104.49 244.51 L104.62 245.51 L104.75 246.50 L104.88 247.49 L104.99 248.48 L105.11 249.47 L105.21 250.47 L105.32 251.46 L105.41 252.46 L105.50 253.45 L105.59 254.45 L105.67 255.44 L105.74 256.44 L105.81 257.43 L105.87 258.43 L105.93 259.42" fill="none" stroke="#1a1aff" stroke-width="1.35" stroke-linejoin="round"/>
<path d="M106.25 269.16 L106.26 270.11 L106.28 271.06 L106.30 272.00 L106.30 272.00" fill="none" stroke="#1a1aff" stroke-width="1.35" stroke-linejoin="round"/>

<path d="M45.00 184.50 L45.56 185.33 L46.11 186.16 L46.67 186.99 L47.22 187.83 L47.78 188.66 L48.33 189.49 L48.88 190.33 L49.43 191.16 L49.97 192.00 L50.52 192.84 L51.06 193.68 L51.60 194.52 L52.13 195.36 L52.67 196.21 L53.19 197.06 L53.72 197.91 L54.24 198.76 L54.76 199.62 L55.27 200.48 L55.77 201.34 L56.28 202.20 L56.78 203.07 L57.27 203.94 L57.76 204.81 L58.25 205.68 L58.74 206.56 L59.22 207.43 L59.69 208.31 L60.16 209.19 L60.63 210.08 L61.09 210.96 L61.55 211.85 L62.01 212.74 L62.45 213.63 L62.90 214.53 L63.33 215.43 L63.76 216.33 L64.19 217.23 L64.60 218.14 L65.01 219.05 L65.41 219.97 L65.80 220.89 L66.19 221.81 L66.57 222.73 L66.94 223.66 L67.31 224.59 L67.67 225.52 L68.02 226.46 L68.37 227.39 L68.71 228.33 L69.04 229.27 L69.37 230.22 L69.70 231.16 L70.02 232.11 L70.33 233.06 L70.64 234.01 L70.95 234.96 L71.25 235.91 L71.54 236.87 L71.83 237.83 L72.12 238.78 L72.40 239.74 L72.68 240.70 L72.95 241.67 L73.21 242.63 L73.47 243.59 L73.73 244.56 L73.98 245.53 L74.23 246.50 L74.47 247.47 L74.70 248.44 L74.93 249.41 L75.15 250.38 L75.36 251.36 L75.56 252.34 L75.76 253.32 L75.94 254.30 L76.11 255.28 L76.28 256.26 L76.43 257.25 L76.56 258.23 L76.69 259.22" fill="none" stroke="#1a1aff" stroke-width="1.35" stroke-linejoin="round"/>
<path d="M77.40 269.07 L77.43 270.05 L77.47 271.02 L77.50 272.00 L77.50 272.00" fill="none" stroke="#1a1aff" stroke-width="1.35" stroke-linejoin="round"/>

<path d="M45.00 235.40 L45.28 236.36 L45.56 237.32 L45.85 238.28 L46.13 239.24 L46.41 240.20 L46.69 241.16 L46.97 242.12 L47.26 243.08 L47.54 244.03 L47.82 244.99 L48.10 245.95 L48.39 246.91 L48.68 247.87 L48.97 248.83 L49.26 249.78 L49.56 250.74 L49.86 251.69 L50.15 252.64 L50.45 253.60 L50.72 254.56 L50.98 255.52 L51.22 256.49 L51.43 257.46 L51.60 258.44" fill="none" stroke="#1a1aff" stroke-width="1.35" stroke-linejoin="round"/>
<path d="M52.26 269.27 L52.27 270.20 L52.29 271.10 L52.30 272.00 L52.30 272.00" fill="none" stroke="#1a1aff" stroke-width="1.35" stroke-linejoin="round"/>

<path d="M45.00 22.50 L46.00 22.52 L47.00 22.53 L48.00 22.55 L49.00 22.57 L50.00 22.58 L51.00 22.60" fill="none" stroke="#ff1a1a" stroke-width="1.35" stroke-linejoin="round"/>
<path d="M65.00 22.83 L66.00 22.85 L67.00 22.87 L68.00 22.88 L69.00 22.90 L70.00 22.92 L71.00 22.94 L72.00 22.95 L73.00 22.97 L74.00 22.99 L75.00 23.01 L76.00 23.02 L77.00 23.04 L78.00 23.06 L79.00 23.08 L79.99 23.10 L80.99 23.11 L81.99 23.13 L82.99 23.15 L83.99 23.17 L84.99 23.19 L85.99 23.21 L86.99 23.23 L87.99 23.25 L88.99 23.27 L89.99 23.29 L90.99 23.31 L91.99 23.33 L92.99 23.35 L93.99 23.37 L94.99 23.39 L95.99 23.41 L96.99 23.44 L97.99 23.46 L98.99 23.48 L99.99 23.50 L100.99 23.53 L101.99 23.55 L102.99 23.58 L103.99 23.60 L104.99 23.62 L105.99 23.65 L106.99 23.67 L107.99 23.70 L108.99 23.72 L109.99 23.75 L110.99 23.77 L111.99 23.80 L112.99 23.82 L113.99 23.85 L114.99 23.88 L115.99 23.90 L116.99 23.93 L117.99 23.96 L118.98 23.98 L119.98 24.01 L120.98 24.04 L121.98 24.07 L122.98 24.10 L123.98 24.12 L124.98 24.15 L125.98 24.18 L126.98 24.21 L127.98 24.24 L128.98 24.27 L129.98 24.30 L130.98 24.33 L131.98 24.37 L132.98 24.40 L133.98 24.43 L134.98 24.46 L135.98 24.50 L136.98 24.53 L137.98 24.56 L138.98 24.60 L139.97 24.63 L140.97 24.67 L141.97 24.70 L142.97 24.74 L143.97 24.78 L144.97 24.81 L145.97 24.85 L146.97 24.89 L147.97 24.93 L148.97 24.97 L149.97 25.01 L150.97 25.05 L151.97 25.09 L152.96 25.14 L153.96 25.18 L154.96 25.22 L155.96 25.27 L156.96 25.31 L157.96 25.36 L158.96 25.40 L159.96 25.45 L160.96 25.50 L161.96 25.54 L162.95 25.59 L163.95 25.64 L164.95 25.69 L165.95 25.74 L166.95 25.79 L167.95 25.84 L168.95 25.89 L169.95 25.94 L170.94 25.99 L171.94 26.04 L172.94 26.09 L173.94 26.15 L174.94 26.20 L175.94 26.25 L176.94 26.30 L177.93 26.36 L178.93 26.41 L179.93 26.46 L180.93 26.51 L181.93 26.57 L182.93 26.62 L183.93 26.67 L184.92 26.73 L185.92 26.78 L186.92 26.83 L187.92 26.88 L188.92 26.93 L189.92 26.99 L190.92 27.04 L191.92 27.09 L192.91 27.14 L193.91 27.19 L194.91 27.24 L195.91 27.29 L196.91 27.34 L197.91 27.39 L198.91 27.44 L199.91 27.48 L200.90 27.53 L201.90 27.58 L202.90 27.62 L203.90 27.67 L204.90 27.72 L205.90 27.76 L206.90 27.80 L207.90 27.85 L208.90 27.89 L209.90 27.93 L210.89 27.98 L211.89 28.02 L212.89 28.06 L213.89 28.10 L214.89 28.14 L215.89 28.19 L216.89 28.23 L217.89 28.27 L218.89 28.31 L219.89 28.35 L220.89 28.39 L221.88 28.43 L222.88 28.48 L223.88 28.52 L224.88 28.56 L225.88 28.61 L226.88 28.65 L227.88 28.70 L228.88 28.74 L229.88 28.79 L230.88 28.84 L231.87 28.89 L232.87 28.94 L233.87 28.99 L234.87 29.04 L235.87 29.09 L236.87 29.15 L237.87 29.20 L238.86 29.26 L239.86 29.32 L240.86 29.38 L241.86 29.44 L242.86 29.51 L243.85 29.57 L244.85 29.64 L245.85 29.71 L246.85 29.78 L247.84 29.85 L248.84 29.92 L249.84 30.00 L250.84 30.07 L251.83 30.15 L252.83 30.23 L253.83 30.31 L254.82 30.39 L255.82 30.47 L256.82 30.55" fill="none" stroke="#ff1a1a" stroke-width="1.35" stroke-linejoin="round"/>
<path d="M271.76 31.84 L272.76 31.93 L273.75 32.01 L274.75 32.10 L275.75 32.19 L276.74 32.28 L277.74 32.36 L278.73 32.45 L279.73 32.54 L280.73 32.63 L281.72 32.71 L282.72 32.80 L283.72 32.89 L284.71 32.98 L285.71 33.07 L286.70 33.16 L287.70 33.25 L288.70 33.34 L289.69 33.42 L290.69 33.51 L291.68 33.60 L292.68 33.69 L293.68 33.78 L294.67 33.87 L295.67 33.96 L296.66 34.05 L297.66 34.14 L298.65 34.23 L299.65 34.32 L300.64 34.41 L301.63 34.50 L302.62 34.59 L303.61 34.68 L304.60 34.77 L305.58 34.86 L306.56 34.95 L307.54 35.03 L308.51 35.12 L309.48 35.21 L310.44 35.30 L311.40 35.38 L312.36 35.47 L313.32 35.56 L313.80 35.60" fill="none" stroke="#ff1a1a" stroke-width="1.35" stroke-linejoin="round"/>

<path d="M45.00 43.75 L46.00 43.83 L46.99 43.91 L47.99 44.00 L48.99 44.08 L49.98 44.16 L50.98 44.24 L51.98 44.32 L52.97 44.40 L53.97 44.48" fill="none" stroke="#ff1a1a" stroke-width="1.35" stroke-linejoin="round"/>
<path d="M66.93 45.54 L67.92 45.62 L68.92 45.71 L69.92 45.79 L70.91 45.87 L71.91 45.96 L72.91 46.04 L73.90 46.12 L74.90 46.21 L75.90 46.29 L76.89 46.38 L77.89 46.46 L78.88 46.55 L79.88 46.64 L80.88 46.72 L81.87 46.81 L82.87 46.90 L83.87 46.99 L84.86 47.07 L85.86 47.16 L86.85 47.25 L87.85 47.34 L88.85 47.44 L89.84 47.53 L90.84 47.62 L91.83 47.71 L92.83 47.81 L93.82 47.90 L94.82 48.00 L95.81 48.10 L96.81 48.20 L97.80 48.29 L98.80 48.39 L99.79 48.49 L100.79 48.59 L101.78 48.70 L102.78 48.80 L103.77 48.90 L104.77 49.00 L105.76 49.11 L106.76 49.21 L107.75 49.32 L108.75 49.42 L109.74 49.53 L110.73 49.64 L111.73 49.74 L112.72 49.85 L113.72 49.96 L114.71 50.07 L115.71 50.18 L116.70 50.28 L117.69 50.40 L118.69 50.51 L119.68 50.62 L120.67 50.73 L121.67 50.84 L122.66 50.95 L123.65 51.07 L124.65 51.18 L125.64 51.30 L126.63 51.42 L127.63 51.53 L128.62 51.65 L129.61 51.77 L130.61 51.89 L131.60 52.01 L132.59 52.13 L133.58 52.25 L134.58 52.37 L135.57 52.50 L136.56 52.62 L137.55 52.75 L138.55 52.88 L139.54 53.01 L140.53 53.14 L141.52 53.27 L142.51 53.40 L143.50 53.53 L144.49 53.67 L145.48 53.80 L146.47 53.94 L147.46 54.08 L148.45 54.22 L149.44 54.36 L150.43 54.50 L151.42 54.65 L152.41 54.79 L153.40 54.94 L154.39 55.09 L155.38 55.24 L156.37 55.39 L157.36 55.55 L158.34 55.70 L159.33 55.86 L160.32 56.02 L161.30 56.18 L162.29 56.34 L163.28 56.51 L164.26 56.67 L165.25 56.84 L166.24 57.01 L167.22 57.18 L168.21 57.35 L169.19 57.52 L170.18 57.70 L171.16 57.88 L172.14 58.05 L173.13 58.23 L174.11 58.41 L175.09 58.59 L176.08 58.78 L177.06 58.96 L178.04 59.15 L179.03 59.33 L180.01 59.52 L180.99 59.71 L181.97 59.90 L182.95 60.10 L183.93 60.29 L184.91 60.48 L185.89 60.68 L186.87 60.88 L187.86 61.07 L188.84 61.27 L189.81 61.47 L190.79 61.67 L191.77 61.88 L192.75 62.08 L193.73 62.29 L194.71 62.49 L195.69 62.70 L196.67 62.91 L197.64 63.12 L198.62 63.33 L199.60 63.54 L200.57 63.76 L201.55 63.97 L202.53 64.19 L203.50 64.41 L204.48 64.63 L205.45 64.85 L206.43 65.08 L207.40 65.30 L208.37 65.53 L209.35 65.76 L210.32 65.99 L211.29 66.23 L212.26 66.46 L213.24 66.70 L214.21 66.94 L215.18 67.18 L216.15 67.43 L217.12 67.67 L218.08 67.92 L219.05 68.17 L220.02 68.42 L220.99 68.67 L221.96 68.93 L222.92 69.18 L223.89 69.44 L224.85 69.70 L225.82 69.96 L226.78 70.22 L227.75 70.49 L228.71 70.76 L229.67 71.02 L230.64 71.30 L231.60 71.57 L232.56 71.84 L233.52 72.12 L234.48 72.40 L235.44 72.69 L236.40 72.97 L237.35 73.26 L238.31 73.56 L239.26 73.86 L240.22 74.16 L241.17 74.46 L242.12 74.78 L243.07 75.09 L244.01 75.41" fill="none" stroke="#ff1a1a" stroke-width="1.35" stroke-linejoin="round"/>
<path d="M256.20 79.91 L257.13 80.28 L258.06 80.65 L258.99 81.02 L259.92 81.39 L260.85 81.76 L261.77 82.14 L262.70 82.52 L263.62 82.90 L264.54 83.29 L265.46 83.68 L266.38 84.08 L267.30 84.48 L268.21 84.89 L269.12 85.30 L270.03 85.72 L270.93 86.14 L271.83 86.57 L272.73 87.01 L273.62 87.46 L274.51 87.91 L275.40 88.37 L276.28 88.84 L277.16 89.32 L278.03 89.80 L278.90 90.29 L279.77 90.79 L280.63 91.30 L281.48 91.81 L282.34 92.33 L283.19 92.86 L284.03 93.39 L284.87 93.93 L285.71 94.48 L286.54 95.03 L287.37 95.59 L288.19 96.16 L289.01 96.73 L289.82 97.31 L290.63 97.89 L291.43 98.49 L292.23 99.09 L293.03 99.69 L293.81 100.31 L294.59 100.93 L295.37 101.56 L296.14 102.20 L296.90 102.84 L297.65 103.49 L298.40 104.15 L299.14 104.82 L299.87 105.50 L300.60 106.19 L301.31 106.88 L302.02 107.58 L302.72 108.29 L303.41 109.01 L304.10 109.74 L304.77 110.47 L305.43 111.22 L306.09 111.97 L306.73 112.73 L307.36 113.50 L307.98 114.27 L308.60 115.06 L309.20 115.84 L309.80 116.64 L310.39 117.44 L310.97 118.24 L311.54 119.05 L312.11 119.86 L312.68 120.67 L313.24 121.49 L313.80 122.30 L313.80 122.30" fill="none" stroke="#ff1a1a" stroke-width="1.35" stroke-linejoin="round"/>

<path d="M313.90 235.50 L313.45 236.39" fill="none" stroke="#ff1a1a" stroke-width="1.35" stroke-linejoin="round"/>
<path d="M308.07 248.21 L307.73 249.15 L307.40 250.09 L307.07 251.04 L306.75 251.99 L306.44 252.94 L306.12 253.88 L305.81 254.83 L305.50 255.79 L305.19 256.74 L304.89 257.69 L304.58 258.64 L304.27 259.59 L303.97 260.54 L303.66 261.50 L303.35 262.45 L303.05 263.40 L302.75 264.35 L302.44 265.30 L302.14 266.25 L301.84 267.18 L301.55 268.10 L301.26 269.01 L300.98 269.89 L300.70 270.74 L300.43 271.58 L300.30 272.00" fill="none" stroke="#ff1a1a" stroke-width="1.35" stroke-linejoin="round"/>

<path d="M45.00 61.30 L45.99 61.40 L46.99 61.50 L47.98 61.60 L48.98 61.71" fill="none" stroke="#ff1a1a" stroke-width="1.35" stroke-linejoin="round"/>
<path d="M61.90 63.09 L62.90 63.21 L63.89 63.33 L64.88 63.46 L65.87 63.59 L66.86 63.72 L67.85 63.86 L68.84 64.00 L69.83 64.14 L70.82 64.29 L71.81 64.45 L72.80 64.60 L73.78 64.77 L74.77 64.93 L75.75 65.10 L76.74 65.28 L77.72 65.46 L78.70 65.64 L79.69 65.83 L80.67 66.01 L81.65 66.20 L82.63 66.40 L83.61 66.59 L84.59 66.79 L85.57 66.99 L86.55 67.19 L87.53 67.39 L88.51 67.59 L89.49 67.80 L90.47 68.00 L91.45 68.21 L92.42 68.42 L93.40 68.63 L94.38 68.84 L95.36 69.05 L96.33 69.27 L97.31 69.48 L98.29 69.70 L99.26 69.91 L100.24 70.13 L101.21 70.35 L102.19 70.57 L103.17 70.79 L104.14 71.01 L105.12 71.23 L106.09 71.45 L107.07 71.68 L108.04 71.90 L109.01 72.13 L109.99 72.35 L110.96 72.58 L111.94 72.81 L112.91 73.03 L113.88 73.26 L114.86 73.49 L115.83 73.72 L116.80 73.96 L117.77 74.19 L118.75 74.42 L119.72 74.65 L120.69 74.89 L121.66 75.12 L122.64 75.36 L123.61 75.60 L124.58 75.83 L125.55 76.07 L126.52 76.31 L127.49 76.55 L128.46 76.79 L129.43 77.04 L130.40 77.28 L131.37 77.53 L132.34 77.78 L133.30 78.03 L134.27 78.29 L135.24 78.55 L136.20 78.81 L137.17 79.07 L138.13 79.34 L139.09 79.62 L140.05 79.89 L141.01 80.17 L141.97 80.46 L142.93 80.75 L143.88 81.04 L144.84 81.34 L145.79 81.64 L146.74 81.94 L147.69 82.25 L148.64 82.57 L149.59 82.89 L150.53 83.21 L151.48 83.54 L152.42 83.87 L153.36 84.20 L154.30 84.54 L155.24 84.89 L156.18 85.24 L157.11 85.60 L158.04 85.96 L158.97 86.32 L159.90 86.69 L160.83 87.07 L161.75 87.45 L162.67 87.83 L163.59 88.22 L164.51 88.62 L165.43 89.01 L166.35 89.42 L167.26 89.82 L168.17 90.24 L169.08 90.65 L169.99 91.07 L170.89 91.49 L171.79 91.92 L172.70 92.35 L173.60 92.79 L174.49 93.23 L175.39 93.67 L176.29 94.12 L177.18 94.57 L178.07 95.02 L178.96 95.48 L179.84 95.94 L180.73 96.40 L181.61 96.87 L182.49 97.35 L183.37 97.82 L184.25 98.31 L185.12 98.79 L185.99 99.28 L186.86 99.78 L187.72 100.28 L188.58 100.79 L189.44 101.30 L190.30 101.82 L191.15 102.34 L192.00 102.87 L192.84 103.40 L193.68 103.94 L194.52 104.49 L195.35 105.04 L196.18 105.60 L197.00 106.16 L197.83 106.73 L198.65 107.30 L199.46 107.88 L200.28 108.46 L201.09 109.05 L201.89 109.63 L202.70 110.23 L203.50 110.82 L204.30 111.42 L205.10 112.03 L205.89 112.63 L206.69 113.24 L207.48 113.85 L208.26 114.47 L209.05 115.09 L209.83 115.71 L210.60 116.34 L211.38 116.98 L212.15 117.61 L212.91 118.26 L213.67 118.90 L214.43 119.56 L215.18 120.22 L215.93 120.88 L216.67 121.55 L217.40 122.22 L218.13 122.90 L218.86 123.59 L219.57 124.28 L220.28 124.98 L220.99 125.69 L221.68 126.40 L222.37 127.13 L223.04 127.86 L223.70 128.60 L224.36 129.35 L224.99 130.11" fill="none" stroke="#ff1a1a" stroke-width="1.35" stroke-linejoin="round"/>
<path d="M232.09 140.90 L232.53 141.79 L232.96 142.68 L233.37 143.59 L233.76 144.50 L234.13 145.42 L234.49 146.35 L234.84 147.28 L235.16 148.22 L235.47 149.17 L235.77 150.12 L236.05 151.07 L236.31 152.03 L236.57 153.00 L236.81 153.96 L237.03 154.94 L237.25 155.91 L237.45 156.89 L237.64 157.87 L237.83 158.85 L238.00 159.83 L238.16 160.81 L238.31 161.80 L238.45 162.79 L238.58 163.78 L238.70 164.77 L238.82 165.76 L238.93 166.76 L239.03 167.75 L239.12 168.74 L239.21 169.74 L239.29 170.74 L239.36 171.73 L239.43 172.73 L239.50 173.73 L239.56 174.72 L239.62 175.72 L239.67 176.72 L239.71 177.72 L239.75 178.72 L239.79 179.72 L239.81 180.71 L239.83 181.71 L239.85 182.71 L239.85 183.71 L239.85 184.71 L239.83 185.71 L239.81 186.71 L239.79 187.71 L239.75 188.70 L239.70 189.70 L239.65 190.70 L239.59 191.70 L239.52 192.69 L239.44 193.69 L239.36 194.68 L239.26 195.68 L239.16 196.67 L239.05 197.66 L238.94 198.66 L238.82 199.65 L238.69 200.64 L238.56 201.63 L238.42 202.62 L238.28 203.61 L238.13 204.60 L237.98 205.59 L237.83 206.57 L237.67 207.56 L237.50 208.55 L237.34 209.53 L237.17 210.52 L237.00 211.50 L236.82 212.49 L236.64 213.47 L236.46 214.46 L236.27 215.44 L236.09 216.42 L235.89 217.40 L235.70 218.38 L235.50 219.36 L235.29 220.34 L235.08 221.32 L234.87 222.29 L234.65 223.27 L234.43 224.24 L234.21 225.22 L233.97 226.19 L233.74 227.16 L233.50 228.13 L233.26 229.10 L233.01 230.07 L232.76 231.04 L232.51 232.01 L232.25 232.97 L231.99 233.94 L231.73 234.90 L231.47 235.87 L231.20 236.83 L230.93 237.79 L230.66 238.75 L230.38 239.72 L230.10 240.68 L229.82 241.64 L229.54 242.60 L229.25 243.55 L228.96 244.51 L228.67 245.47 L228.38 246.42 L228.09 247.38 L227.79 248.34 L227.50 249.29 L227.20 250.24 L226.90 251.20 L226.60 252.15 L226.30 253.11 L225.99 254.06 L225.69 255.01 L225.39 255.96 L225.08 256.92 L224.78 257.87 L224.47 258.82 L224.16 259.77 L223.86 260.72 L223.55 261.67 L223.25 262.61 L222.94 263.56 L222.63 264.51 L222.33 265.45 L222.02 266.39 L221.72 267.33 L221.41 268.27 L221.11 269.20 L220.81 270.13 L220.50 271.07 L220.20 272.00 L220.20 272.00" fill="none" stroke="#ff1a1a" stroke-width="1.35" stroke-linejoin="round"/>

<path d="M45.00 112.00 L45.86 112.51 L46.72 113.02 L47.58 113.53 L48.44 114.04 L49.30 114.55 L50.16 115.07 L51.01 115.58 L51.87 116.10 L52.73 116.62 L53.58 117.14 L54.43 117.66 L55.28 118.19 L56.13 118.72 L56.97 119.25 L57.81 119.79 L58.65 120.34 L59.48 120.89 L60.31 121.44 L61.14 122.01" fill="none" stroke="#ff1a1a" stroke-width="1.35" stroke-linejoin="round"/>
<path d="M70.65 129.28 L71.41 129.93 L72.15 130.60 L72.89 131.27 L73.63 131.94 L74.35 132.63 L75.07 133.32 L75.78 134.02 L76.48 134.73 L77.18 135.45 L77.87 136.17 L78.55 136.90 L79.22 137.64 L79.89 138.38 L80.56 139.12 L81.21 139.88 L81.87 140.63 L82.52 141.39 L83.16 142.15 L83.81 142.92 L84.45 143.69 L85.08 144.46 L85.72 145.23 L86.35 146.00 L86.98 146.78 L87.61 147.56 L88.23 148.34 L88.85 149.12 L89.46 149.91 L90.07 150.70 L90.67 151.50 L91.26 152.30 L91.84 153.11 L92.41 153.92 L92.97 154.75 L93.52 155.58 L94.05 156.42 L94.57 157.27 L95.08 158.13 L95.57 158.99 L96.05 159.86 L96.52 160.74 L96.98 161.63 L97.42 162.52 L97.85 163.42 L98.28 164.32 L98.69 165.23 L99.10 166.14 L99.49 167.06 L99.88 167.98 L100.26 168.90 L100.63 169.83 L100.99 170.76 L101.35 171.69 L101.70 172.63 L102.04 173.57 L102.37 174.51 L102.70 175.46 L103.02 176.40 L103.33 177.35 L103.64 178.30 L103.94 179.25 L104.24 180.21 L104.53 181.16 L104.82 182.12 L105.10 183.08 L105.38 184.04 L105.65 185.00 L105.92 185.96 L106.19 186.93 L106.45 187.89 L106.71 188.86 L106.97 189.82 L107.22 190.79 L107.47 191.76 L107.71 192.73 L107.96 193.70 L108.19 194.67 L108.43 195.64 L108.66 196.61 L108.88 197.59 L109.10 198.56 L109.32 199.54 L109.53 200.52 L109.73 201.50 L109.93 202.47 L110.13 203.45 L110.31 204.44 L110.49 205.42 L110.67 206.40 L110.83 207.39 L110.99 208.37 L111.14 209.36 L111.28 210.35 L111.41 211.34 L111.53 212.33 L111.63 213.32 L111.73 214.31 L111.81 215.31 L111.88 216.30 L111.93 217.29 L111.97 218.29 L112.00 219.29 L112.01 220.28 L112.00 221.28 L111.99 222.27 L111.96 223.27 L111.92 224.27 L111.86 225.26 L111.80 226.26 L111.72 227.25 L111.64 228.25 L111.54 229.24 L111.44 230.24 L111.33 231.23 L111.22 232.22 L111.10 233.21 L110.97 234.21 L110.84 235.20 L110.70 236.19 L110.56 237.18 L110.41 238.16 L110.25 239.15 L110.10 240.14 L109.93 241.12 L109.77 242.11 L109.60 243.10 L109.43 244.08 L109.25 245.06 L109.08 246.05 L108.90 247.03 L108.72 248.02 L108.54 249.00 L108.36 249.98 L108.19 250.97 L108.02 251.95 L107.85 252.94 L107.69 253.92 L107.54 254.91 L107.39 255.90 L107.25 256.88 L107.12 257.87" fill="none" stroke="#ff1a1a" stroke-width="1.35" stroke-linejoin="round"/>
<path d="M106.29 266.71 L106.23 267.68 L106.18 268.64 L106.13 269.61 L106.07 270.56 L106.02 271.52 L106.00 272.00" fill="none" stroke="#ff1a1a" stroke-width="1.35" stroke-linejoin="round"/>

<path d="M45.00 133.60 L45.77 134.23 L46.54 134.87 L47.31 135.51 L48.07 136.15 L48.83 136.80 L49.59 137.45 L50.33 138.12 L51.07 138.78 L51.81 139.46 L52.53 140.15 L53.24 140.84 L53.95 141.54 L54.65 142.26 L55.34 142.98 L56.02 143.70 L56.69 144.44 L57.36 145.18 L58.02 145.93 L58.67 146.69 L59.31 147.45 L59.95 148.22 L60.58 149.00 L61.20 149.78 L61.81 150.57 L62.42 151.36 L63.01 152.16 L63.60 152.96 L64.18 153.78 L64.75 154.60 L65.31 155.42 L65.86 156.26 L66.40 157.09 L66.93 157.94 L67.45 158.79 L67.97 159.64 L68.48 160.50 L68.98 161.37 L69.47 162.24 L69.96 163.11 L70.44 163.98 L70.91 164.86 L71.38 165.75 L71.84 166.63 L72.30 167.52 L72.75 168.41 L73.20 169.30 L73.64 170.20 L74.08 171.10 L74.51 172.00 L74.94 172.90 L75.36 173.81 L75.77 174.72 L76.18 175.63 L76.58 176.55 L76.98 177.46 L77.37 178.38 L77.75 179.31 L78.12 180.23 L78.48 181.16 L78.84 182.10 L79.18 183.03 L79.52 183.97 L79.85 184.92 L80.16 185.86 L80.47 186.81 L80.77 187.76 L81.07 188.72 L81.35 189.68 L81.63 190.64 L81.90 191.60 L82.16 192.56 L82.41 193.53 L82.66 194.50 L82.91 195.46 L83.14 196.44 L83.37 197.41 L83.60 198.38 L83.81 199.36 L84.02 200.33 L84.22 201.31 L84.41 202.29 L84.59 203.27 L84.76 204.26 L84.92 205.24 L85.07 206.23 L85.21 207.21 L85.34 208.20 L85.46 209.19 L85.57 210.19 L85.68 211.18 L85.77 212.17 L85.85 213.17 L85.93 214.16 L85.99 215.16 L86.05 216.16 L86.11 217.16 L86.15 218.15 L86.19 219.15 L86.21 220.15 L86.23 221.15 L86.25 222.15 L86.25 223.15 L86.25 224.15 L86.24 225.15 L86.23 226.14 L86.20 227.14 L86.18 228.14 L86.14 229.14 L86.10 230.14 L86.06 231.14 L86.01 232.14 L85.96 233.14 L85.90 234.13 L85.85 235.13 L85.78 236.13 L85.72 237.13 L85.65 238.13 L85.58 239.12 L85.51 240.12 L85.44 241.12 L85.37 242.11 L85.29 243.11 L85.21 244.11 L85.13 245.11 L85.05 246.10 L84.97 247.10 L84.89 248.10 L84.81 249.09 L84.72 250.09 L84.64 251.08 L84.56 252.08 L84.48 253.08 L84.41 254.07 L84.33 255.07 L84.26 256.07 L84.19 257.07 L84.12 258.06 L84.06 259.06" fill="none" stroke="#ff1a1a" stroke-width="1.35" stroke-linejoin="round"/>
<path d="M83.57 270.01 L83.53 271.01 L83.50 272.00 L83.50 272.00" fill="none" stroke="#ff1a1a" stroke-width="1.35" stroke-linejoin="round"/>

<path d="M45.00 165.40 L45.50 166.26 L46.01 167.13 L46.51 167.99 L47.01 168.86 L47.50 169.73 L47.99 170.60 L48.48 171.47 L48.95 172.35 L49.42 173.23 L49.89 174.11 L50.34 175.00 L50.79 175.90 L51.22 176.79 L51.65 177.69 L52.07 178.60 L52.48 179.51 L52.89 180.42 L53.28 181.34 L53.67 182.26 L54.05 183.19 L54.42 184.11 L54.78 185.04 L55.13 185.98 L55.48 186.91 L55.81 187.85 L56.14 188.80 L56.46 189.74 L56.77 190.69 L57.06 191.64 L57.35 192.60 L57.63 193.56 L57.89 194.52 L58.15 195.48 L58.39 196.45 L58.63 197.42 L58.85 198.39 L59.07 199.37 L59.29 200.34 L59.49 201.32 L59.70 202.30 L59.90 203.28 L60.10 204.25 L60.29 205.23 L60.49 206.21 L60.69 207.20 L60.88 208.18 L61.08 209.16 L61.27 210.14 L61.46 211.12 L61.65 212.10 L61.84 213.08 L62.02 214.06 L62.20 215.05 L62.37 216.03 L62.53 217.02 L62.69 218.00 L62.83 218.99 L62.96 219.98 L63.09 220.97 L63.20 221.96 L63.30 222.95 L63.38 223.94 L63.46 224.94 L63.52 225.93 L63.57 226.93 L63.61 227.93 L63.64 228.92 L63.66 229.92 L63.67 230.92 L63.68 231.92 L63.67 232.92 L63.66 233.92 L63.65 234.92 L63.62 235.92 L63.60 236.92 L63.57 237.91 L63.53 238.91 L63.50 239.91 L63.46 240.91 L63.42 241.91 L63.38 242.91 L63.33 243.91 L63.28 244.91 L63.24 245.91 L63.19 246.91 L63.14 247.90 L63.09 248.90 L63.04 249.90 L62.99 250.90 L62.94 251.90 L62.90 252.90 L62.85 253.90 L62.81 254.90 L62.76 255.89 L62.72 256.89 L62.68 257.89 L62.64 258.88" fill="none" stroke="#ff1a1a" stroke-width="1.35" stroke-linejoin="round"/>
<path d="M62.35 269.63 L62.33 270.58 L62.31 271.53 L62.30 272.00" fill="none" stroke="#ff1a1a" stroke-width="1.35" stroke-linejoin="round"/>

<path d="M45.00 30.75 L46.00 30.80 L47.00 30.84 L48.00 30.89 L49.00 30.93 L49.99 30.98 L50.99 31.03" fill="none" stroke="#000" stroke-width="2.0" stroke-linejoin="round"/>
<path d="M64.98 31.67 L65.98 31.72 L66.98 31.76 L67.98 31.81 L68.97 31.85 L69.97 31.90 L70.97 31.95 L71.97 31.99 L72.97 32.04 L73.97 32.09 L74.97 32.13 L75.97 32.18 L76.97 32.22 L77.96 32.27 L78.96 32.32 L79.96 32.36 L80.96 32.41 L81.96 32.46 L82.96 32.50 L83.96 32.55 L84.96 32.60 L85.96 32.64 L86.96 32.69 L87.95 32.73 L88.95 32.78 L89.95 32.83 L90.95 32.87 L91.95 32.92 L92.95 32.97 L93.95 33.01 L94.95 33.06 L95.95 33.11 L96.94 33.15 L97.94 33.20 L98.94 33.25 L99.94 33.29 L100.94 33.34 L101.94 33.38 L102.94 33.43 L103.94 33.48 L104.94 33.52 L105.94 33.56 L106.93 33.61 L107.93 33.65 L108.93 33.70 L109.93 33.74 L110.93 33.78 L111.93 33.83 L112.93 33.87 L113.93 33.91 L114.93 33.96 L115.93 34.00 L116.92 34.04 L117.92 34.09 L118.92 34.13 L119.92 34.17 L120.92 34.22 L121.92 34.26 L122.92 34.31 L123.92 34.35 L124.92 34.40 L125.92 34.45 L126.91 34.49 L127.91 34.54 L128.91 34.59 L129.91 34.64 L130.91 34.69 L131.91 34.74 L132.91 34.80 L133.91 34.85 L134.90 34.90 L135.90 34.96 L136.90 35.02 L137.90 35.08 L138.90 35.13 L139.90 35.19 L140.89 35.26 L141.89 35.32 L142.89 35.38 L143.89 35.45 L144.88 35.51 L145.88 35.58 L146.88 35.65 L147.88 35.71 L148.88 35.78 L149.87 35.85 L150.87 35.92 L151.87 36.00 L152.87 36.07 L153.86 36.14 L154.86 36.22 L155.86 36.29 L156.85 36.37 L157.85 36.44 L158.85 36.52 L159.85 36.60 L160.84 36.67 L161.84 36.75 L162.84 36.83 L163.83 36.91 L164.83 36.99 L165.83 37.07 L166.82 37.15 L167.82 37.23 L168.82 37.31 L169.81 37.40 L170.81 37.48 L171.81 37.56 L172.80 37.64 L173.80 37.73 L174.80 37.81 L175.79 37.89 L176.79 37.98 L177.79 38.06 L178.78 38.15 L179.78 38.23 L180.77 38.32 L181.77 38.40 L182.77 38.49 L183.76 38.57 L184.76 38.66 L185.76 38.75 L186.75 38.83 L187.75 38.92 L188.74 39.01 L189.74 39.09 L190.74 39.18 L191.73 39.27 L192.73 39.36 L193.73 39.44 L194.72 39.53 L195.72 39.62 L196.71 39.71 L197.71 39.80 L198.71 39.89 L199.70 39.98 L200.70 40.07 L201.69 40.16 L202.69 40.25 L203.69 40.34 L204.68 40.43 L205.68 40.52 L206.67 40.61 L207.67 40.70 L208.67 40.79 L209.66 40.88 L210.66 40.98 L211.65 41.07 L212.65 41.16 L213.64 41.26 L214.64 41.35 L215.63 41.44 L216.63 41.54 L217.63 41.64 L218.62 41.73 L219.62 41.83 L220.61 41.93 L221.61 42.03 L222.60 42.13 L223.60 42.23 L224.59 42.33 L225.59 42.43 L226.58 42.53 L227.58 42.64 L228.57 42.74 L229.56 42.85 L230.56 42.95 L231.55 43.06 L232.55 43.17 L233.54 43.28 L234.53 43.39 L235.53 43.50 L236.52 43.62 L237.51 43.73 L238.51 43.85 L239.50 43.96 L240.49 44.08 L241.49 44.20 L242.48 44.32 L243.47 44.44 L244.46 44.57 L245.46 44.69 L246.45 44.82 L247.44 44.95 L248.43 45.08 L249.42 45.21 L250.41 45.34 L251.40 45.48 L252.40 45.61 L253.39 45.75 L254.38 45.89 L255.37 46.03 L256.36 46.18 L257.34 46.32" fill="none" stroke="#000" stroke-width="2.0" stroke-linejoin="round"/>
<path d="M272.16 48.67 L273.15 48.83 L274.13 49.00 L275.12 49.17 L276.10 49.34 L277.09 49.51 L278.07 49.68 L279.06 49.85 L280.04 50.02 L281.03 50.20 L282.01 50.37 L283.00 50.55 L283.98 50.72 L284.97 50.90 L285.95 51.08 L286.93 51.25 L287.92 51.43 L288.90 51.61 L289.89 51.79 L290.87 51.97 L291.85 52.15 L292.84 52.33 L293.82 52.51 L294.80 52.69 L295.79 52.87 L296.77 53.05 L297.75 53.23 L298.74 53.42 L299.72 53.60 L300.70 53.78 L301.68 53.96 L302.66 54.14 L303.64 54.32 L304.62 54.50 L305.59 54.68 L306.57 54.86 L307.54 55.04 L308.51 55.22 L309.47 55.40 L310.44 55.58 L311.40 55.76 L312.36 55.93 L313.32 56.11 L313.80 56.20" fill="none" stroke="#000" stroke-width="2.0" stroke-linejoin="round"/>

<path d="M45.00 51.00 L46.00 51.07 L46.99 51.15 L47.99 51.22 L48.99 51.30 L49.99 51.37 L50.98 51.45" fill="none" stroke="#000" stroke-width="2.0" stroke-linejoin="round"/>
<path d="M63.95 52.41 L64.94 52.49 L65.94 52.56 L66.94 52.64 L67.94 52.71 L68.93 52.79 L69.93 52.87 L70.93 52.94 L71.92 53.02 L72.92 53.10 L73.92 53.17 L74.92 53.25 L75.91 53.33 L76.91 53.41 L77.91 53.48 L78.90 53.56 L79.90 53.64 L80.90 53.72 L81.89 53.80 L82.89 53.89 L83.89 53.97 L84.88 54.05 L85.88 54.14 L86.88 54.22 L87.87 54.31 L88.87 54.40 L89.86 54.49 L90.86 54.58 L91.86 54.67 L92.85 54.77 L93.85 54.86 L94.84 54.96 L95.84 55.06 L96.83 55.17 L97.82 55.27 L98.82 55.38 L99.81 55.50 L100.80 55.61 L101.80 55.73 L102.79 55.86 L103.78 55.98 L104.77 56.11 L105.76 56.24 L106.75 56.38 L107.74 56.52 L108.73 56.66 L109.72 56.80 L110.71 56.95 L111.70 57.10 L112.69 57.25 L113.68 57.40 L114.67 57.55 L115.66 57.70 L116.64 57.85 L117.63 58.01 L118.62 58.16 L119.61 58.31 L120.60 58.46 L121.59 58.61 L122.58 58.75 L123.56 58.90 L124.55 59.04 L125.54 59.19 L126.53 59.33 L127.52 59.48 L128.51 59.62 L129.50 59.76 L130.49 59.90 L131.48 60.05 L132.47 60.19 L133.46 60.33 L134.45 60.48 L135.44 60.63 L136.43 60.77 L137.42 60.92 L138.41 61.07 L139.39 61.23 L140.38 61.38 L141.37 61.54 L142.36 61.70 L143.34 61.86 L144.33 62.02 L145.32 62.19 L146.30 62.36 L147.29 62.53 L148.27 62.70 L149.26 62.87 L150.24 63.05 L151.22 63.23 L152.21 63.41 L153.19 63.59 L154.17 63.77 L155.16 63.96 L156.14 64.15 L157.12 64.34 L158.10 64.53 L159.08 64.72 L160.06 64.92 L161.04 65.11 L162.02 65.31 L163.00 65.51 L163.98 65.71 L164.96 65.92 L165.94 66.13 L166.92 66.33 L167.90 66.54 L168.87 66.76 L169.85 66.97 L170.83 67.19 L171.80 67.41 L172.78 67.63 L173.75 67.86 L174.72 68.08 L175.70 68.31 L176.67 68.54 L177.64 68.77 L178.62 69.01 L179.59 69.24 L180.56 69.48 L181.53 69.73 L182.50 69.97 L183.47 70.21 L184.44 70.46 L185.40 70.71 L186.37 70.96 L187.34 71.22 L188.31 71.47 L189.27 71.73 L190.24 71.99 L191.20 72.25 L192.17 72.52 L193.13 72.78 L194.09 73.05 L195.06 73.32 L196.02 73.60 L196.98 73.87 L197.94 74.15 L198.90 74.44 L199.86 74.72 L200.81 75.01 L201.77 75.30 L202.72 75.60 L203.68 75.90 L204.63 76.20 L205.58 76.50 L206.53 76.81 L207.48 77.12 L208.43 77.44 L209.38 77.76 L210.33 78.08 L211.27 78.41 L212.22 78.73 L213.16 79.06 L214.10 79.40 L215.05 79.73 L215.99 80.07 L216.93 80.40 L217.87 80.74 L218.81 81.08 L219.75 81.43 L220.69 81.77 L221.63 82.12 L222.56 82.46 L223.50 82.81 L224.44 83.16 L225.37 83.51 L226.31 83.87 L227.24 84.22 L228.18 84.58 L229.11 84.94 L230.04 85.30 L230.97 85.66 L231.90 86.03 L232.83 86.40 L233.76 86.77 L234.69 87.15 L235.62 87.52 L236.54 87.90 L237.46 88.29 L238.39 88.67 L239.31 89.06 L240.23 89.45 L241.15 89.85 L242.06 90.25 L242.98 90.65 L243.89 91.05 L244.81 91.46 L245.72 91.87 L246.63 92.28 L247.53 92.70" fill="none" stroke="#000" stroke-width="2.0" stroke-linejoin="round"/>
<path d="M259.08 98.65 L259.94 99.15 L260.80 99.66 L261.65 100.18 L262.50 100.70 L263.35 101.24 L264.19 101.77 L265.03 102.32 L265.86 102.87 L266.69 103.42 L267.52 103.98 L268.34 104.55 L269.16 105.12 L269.98 105.70 L270.79 106.29 L271.59 106.87 L272.40 107.47 L273.20 108.07 L273.99 108.67 L274.78 109.28 L275.57 109.90 L276.35 110.53 L277.12 111.16 L277.89 111.80 L278.65 112.44 L279.40 113.09 L280.15 113.75 L280.89 114.42 L281.63 115.10 L282.36 115.78 L283.08 116.47 L283.79 117.17 L284.50 117.87 L285.19 118.59 L285.89 119.31 L286.57 120.03 L287.25 120.77 L287.92 121.51 L288.58 122.25 L289.24 123.01 L289.89 123.76 L290.53 124.53 L291.17 125.29 L291.81 126.07 L292.43 126.84 L293.05 127.63 L293.66 128.42 L294.26 129.21 L294.86 130.01 L295.45 130.82 L296.03 131.63 L296.59 132.45 L297.15 133.27 L297.70 134.11 L298.24 134.95 L298.76 135.79 L299.28 136.65 L299.78 137.51 L300.27 138.37 L300.75 139.25 L301.23 140.12 L301.69 141.01 L302.14 141.90 L302.58 142.79 L303.01 143.69 L303.43 144.60 L303.83 145.51 L304.23 146.42 L304.61 147.34 L304.98 148.27 L305.34 149.20 L305.69 150.13 L306.02 151.07 L306.34 152.02 L306.65 152.96 L306.94 153.92 L307.23 154.87 L307.50 155.83 L307.76 156.79 L308.01 157.76 L308.25 158.73 L308.49 159.70 L308.71 160.67 L308.92 161.65 L309.12 162.63 L309.32 163.61 L309.50 164.59 L309.68 165.57 L309.85 166.55 L310.01 167.54 L310.17 168.53 L310.31 169.51 L310.45 170.50 L310.59 171.49 L310.71 172.49 L310.83 173.48 L310.94 174.47 L311.05 175.46 L311.15 176.46 L311.24 177.45 L311.32 178.45 L311.40 179.44 L311.47 180.44 L311.52 181.44 L311.57 182.43 L311.61 183.43 L311.64 184.43 L311.66 185.43 L311.67 186.42 L311.67 187.42 L311.66 188.42 L311.64 189.42 L311.62 190.42 L311.58 191.41 L311.53 192.41 L311.48 193.41 L311.42 194.41 L311.36 195.40 L311.29 196.40 L311.21 197.40 L311.13 198.39 L311.04 199.39 L310.95 200.38 L310.85 201.38 L310.75 202.37 L310.65 203.37 L310.53 204.36 L310.42 205.35 L310.29 206.34 L310.16 207.34 L310.03 208.33 L309.89 209.31 L309.74 210.30 L309.58 211.29 L309.42 212.28" fill="none" stroke="#000" stroke-width="2.0" stroke-linejoin="round"/>
<path d="M306.85 225.01 L306.63 225.99 L306.41 226.96 L306.18 227.94 L305.96 228.91 L305.73 229.89 L305.51 230.86 L305.28 231.83 L305.05 232.81 L304.82 233.78 L304.58 234.75 L304.35 235.72 L304.11 236.69 L303.87 237.67 L303.63 238.64 L303.39 239.61 L303.15 240.58 L302.90 241.55 L302.65 242.51 L302.40 243.48 L302.15 244.45 L301.89 245.42 L301.63 246.38 L301.37 247.35 L301.11 248.31 L300.85 249.28 L300.58 250.24 L300.31 251.20 L300.04 252.17 L299.77 253.13 L299.50 254.09 L299.22 255.05 L298.95 256.01 L298.67 256.97 L298.39 257.93 L298.11 258.89 L297.83 259.85 L297.55 260.80 L297.27 261.75 L296.99 262.70 L296.71 263.65 L296.43 264.59 L296.15 265.53 L295.87 266.47 L295.59 267.40 L295.31 268.32 L295.03 269.25 L294.75 270.17 L294.48 271.08 L294.20 272.00 L294.20 272.00" fill="none" stroke="#000" stroke-width="2.0" stroke-linejoin="round"/>

<path d="M45.00 71.10 L45.99 71.20 L46.99 71.31 L47.98 71.41 L48.98 71.52 L49.97 71.62" fill="none" stroke="#000" stroke-width="2.0" stroke-linejoin="round"/>
<path d="M62.89 73.08 L63.88 73.20 L64.87 73.34 L65.86 73.47 L66.85 73.61 L67.84 73.75 L68.83 73.90 L69.82 74.05 L70.81 74.21 L71.79 74.37 L72.78 74.54 L73.76 74.71 L74.75 74.89 L75.73 75.07 L76.71 75.26 L77.69 75.45 L78.67 75.65 L79.65 75.86 L80.63 76.07 L81.60 76.28 L82.58 76.50 L83.55 76.73 L84.52 76.96 L85.49 77.20 L86.46 77.44 L87.43 77.68 L88.40 77.93 L89.37 78.19 L90.33 78.45 L91.30 78.71 L92.26 78.98 L93.22 79.26 L94.18 79.53 L95.14 79.81 L96.10 80.10 L97.06 80.38 L98.01 80.67 L98.97 80.96 L99.93 81.26 L100.88 81.55 L101.84 81.85 L102.79 82.15 L103.74 82.45 L104.70 82.76 L105.65 83.06 L106.60 83.37 L107.55 83.68 L108.50 83.99 L109.45 84.30 L110.40 84.61 L111.35 84.92 L112.30 85.24 L113.25 85.55 L114.20 85.87 L115.15 86.19 L116.09 86.51 L117.04 86.82 L117.99 87.14 L118.94 87.46 L119.89 87.78 L120.83 88.10 L121.78 88.41 L122.73 88.73 L123.68 89.05 L124.63 89.37 L125.58 89.69 L126.52 90.00 L127.47 90.32 L128.42 90.64 L129.37 90.96 L130.31 91.28 L131.26 91.60 L132.21 91.92 L133.15 92.24 L134.10 92.57 L135.05 92.89 L135.99 93.22 L136.93 93.55 L137.88 93.88 L138.82 94.22 L139.76 94.55 L140.70 94.89 L141.64 95.23 L142.58 95.58 L143.52 95.92 L144.46 96.27 L145.39 96.62 L146.33 96.97 L147.26 97.33 L148.20 97.69 L149.13 98.05 L150.06 98.42 L150.99 98.79 L151.91 99.16 L152.84 99.54 L153.76 99.92 L154.68 100.31 L155.60 100.71 L156.52 101.11 L157.43 101.51 L158.34 101.92 L159.25 102.34 L160.16 102.76 L161.06 103.18 L161.96 103.61 L162.86 104.05 L163.76 104.49 L164.66 104.93 L165.55 105.38 L166.44 105.84 L167.33 106.29 L168.22 106.75 L169.10 107.22 L169.99 107.68 L170.87 108.15 L171.75 108.62 L172.63 109.10 L173.51 109.58 L174.39 110.05 L175.26 110.54 L176.14 111.02 L177.02 111.50 L177.89 111.99 L178.76 112.48 L179.63 112.97 L180.51 113.46 L181.38 113.95 L182.24 114.44 L183.11 114.94 L183.98 115.44 L184.84 115.95 L185.70 116.45 L186.56 116.96 L187.42 117.48 L188.27 117.99 L189.13 118.52 L189.97 119.05 L190.82 119.58 L191.66 120.12 L192.49 120.67 L193.32 121.22 L194.15 121.78 L194.97 122.35 L195.78 122.93 L196.59 123.52 L197.39 124.11 L198.18 124.72 L198.97 125.33 L199.74 125.96 L200.51 126.59 L201.27 127.24 L202.03 127.89 L202.77 128.56 L203.50 129.23 L204.22 129.92 L204.93 130.61 L205.64 131.32 L206.33 132.04 L207.01 132.76 L207.68 133.50 L208.33 134.25 L208.98 135.01 L209.62 135.77 L210.24 136.55 L210.86 137.34 L211.46 138.13 L212.06 138.93 L212.65 139.73 L213.23 140.54 L213.80 141.36 L214.37 142.18 L214.93 143.01 L215.49 143.84 L216.05 144.67 L216.60 145.50 L217.15 146.33 L217.70 147.17" fill="none" stroke="#000" stroke-width="2.0" stroke-linejoin="round"/>
<path d="M224.12 158.39 L224.51 159.30 L224.89 160.22 L225.24 161.14 L225.58 162.08 L225.90 163.02 L226.21 163.96 L226.50 164.91 L226.78 165.87 L227.04 166.83 L227.30 167.79 L227.55 168.76 L227.79 169.73 L228.02 170.70 L228.24 171.67 L228.46 172.65 L228.67 173.63 L228.87 174.60 L229.07 175.58 L229.26 176.56 L229.45 177.55 L229.62 178.53 L229.80 179.51 L229.97 180.50 L230.13 181.48 L230.29 182.47 L230.44 183.46 L230.59 184.45 L230.74 185.44 L230.88 186.43 L231.01 187.42 L231.14 188.41 L231.27 189.40 L231.38 190.39 L231.49 191.38 L231.59 192.38 L231.69 193.37 L231.77 194.36 L231.84 195.36 L231.90 196.35 L231.96 197.35 L232.00 198.35 L232.03 199.35 L232.05 200.34 L232.06 201.34 L232.06 202.34 L232.06 203.34 L232.04 204.34 L232.02 205.34 L231.98 206.33 L231.94 207.33 L231.90 208.33 L231.84 209.33 L231.78 210.33 L231.72 211.32 L231.64 212.32 L231.56 213.32 L231.48 214.31 L231.38 215.31 L231.28 216.30 L231.18 217.29 L231.06 218.29 L230.95 219.28 L230.82 220.27 L230.69 221.26 L230.56 222.25 L230.42 223.24 L230.28 224.23 L230.13 225.22 L229.98 226.21 L229.82 227.19 L229.66 228.18 L229.50 229.17 L229.33 230.15 L229.16 231.14 L228.99 232.12 L228.81 233.11 L228.63 234.09 L228.45 235.07 L228.26 236.06 L228.07 237.04 L227.87 238.02 L227.68 239.00 L227.47 239.98 L227.27 240.95 L227.05 241.93 L226.84 242.91 L226.62 243.88 L226.39 244.86 L226.16 245.83 L225.93 246.80 L225.70 247.77 L225.46 248.75 L225.22 249.72 L224.97 250.69 L224.73 251.65 L224.48 252.62 L224.23 253.59 L223.98 254.56 L223.73 255.53 L223.47 256.49 L223.22 257.46 L222.96 258.42 L222.71 259.38 L222.45 260.35 L222.20 261.30 L221.94 262.26 L221.68 263.21 L221.43 264.16 L221.17 265.10 L220.92 266.04 L220.67 266.97 L220.42 267.89 L220.17 268.81 L219.92 269.73 L219.67 270.64 L219.42 271.55 L219.30 272.00" fill="none" stroke="#000" stroke-width="2.0" stroke-linejoin="round"/>

<path d="M45.00 113.00 L45.86 113.51 L46.72 114.02 L47.58 114.53 L48.44 115.04 L49.30 115.55 L50.16 116.07 L51.01 116.58 L51.87 117.10 L52.73 117.62 L53.58 118.14 L54.43 118.66 L55.28 119.19 L56.13 119.72 L56.97 120.25 L57.81 120.79 L58.65 121.34 L59.48 121.89 L60.31 122.44" fill="none" stroke="#000" stroke-width="2.0" stroke-linejoin="round"/>
<path d="M69.87 129.66 L70.62 130.31 L71.37 130.98 L72.10 131.65 L72.83 132.33 L73.55 133.02 L74.27 133.71 L74.97 134.42 L75.67 135.13 L76.36 135.85 L77.04 136.58 L77.72 137.32 L78.39 138.06 L79.05 138.80 L79.71 139.55 L80.37 140.31 L81.02 141.07 L81.66 141.83 L82.30 142.60 L82.94 143.37 L83.57 144.15 L84.20 144.92 L84.82 145.70 L85.44 146.49 L86.06 147.27 L86.68 148.06 L87.29 148.85 L87.89 149.65 L88.50 150.44 L89.10 151.24 L89.69 152.05 L90.28 152.85 L90.86 153.66 L91.44 154.48 L92.01 155.30 L92.56 156.13 L93.11 156.96 L93.65 157.80 L94.18 158.64 L94.70 159.49 L95.20 160.35 L95.69 161.22 L96.17 162.09 L96.63 162.97 L97.08 163.86 L97.52 164.76 L97.94 165.66 L98.36 166.56 L98.75 167.48 L99.14 168.40 L99.52 169.32 L99.88 170.25 L100.24 171.18 L100.59 172.12 L100.93 173.05 L101.27 174.00 L101.59 174.94 L101.91 175.89 L102.23 176.83 L102.54 177.78 L102.84 178.74 L103.14 179.69 L103.44 180.64 L103.73 181.60 L104.02 182.56 L104.30 183.52 L104.58 184.48 L104.86 185.44 L105.13 186.40 L105.40 187.36 L105.67 188.33 L105.93 189.29 L106.19 190.26 L106.44 191.22 L106.69 192.19 L106.94 193.16 L107.18 194.13 L107.42 195.10 L107.65 196.07 L107.88 197.05 L108.10 198.02 L108.32 199.00 L108.53 199.97 L108.74 200.95 L108.94 201.93 L109.13 202.91 L109.32 203.89 L109.50 204.87 L109.68 205.86 L109.85 206.84 L110.01 207.83 L110.17 208.81 L110.32 209.80 L110.46 210.79 L110.60 211.78 L110.73 212.77 L110.85 213.76 L110.97 214.76 L111.08 215.75 L111.19 216.74 L111.28 217.74 L111.38 218.73 L111.47 219.73 L111.55 220.72 L111.62 221.72 L111.69 222.72 L111.76 223.72 L111.82 224.71 L111.88 225.71 L111.93 226.71 L111.97 227.71 L112.02 228.71 L112.05 229.71 L112.09 230.70 L112.12 231.70 L112.15 232.70 L112.17 233.70 L112.19 234.70 L112.21 235.70 L112.22 236.70 L112.23 237.70 L112.24 238.70 L112.24 239.70 L112.24 240.70 L112.24 241.70 L112.24 242.70 L112.23 243.70 L112.22 244.70 L112.21 245.70 L112.20 246.70 L112.19 247.70 L112.17 248.70 L112.15 249.70 L112.14 250.70 L112.12 251.70 L112.10 252.70 L112.09 253.70 L112.07 254.70 L112.06 255.70 L112.05 256.70 L112.03 257.70" fill="none" stroke="#000" stroke-width="2.0" stroke-linejoin="round"/>
<path d="M111.99 267.61 L111.99 268.59 L112.00 269.56 L112.00 270.54 L112.00 271.51 L112.00 272.00" fill="none" stroke="#000" stroke-width="2.0" stroke-linejoin="round"/>

<path d="M45.00 138.10 L45.77 138.73 L46.54 139.37 L47.30 140.01 L48.06 140.66 L48.82 141.31 L49.57 141.97 L50.30 142.63 L51.03 143.31 L51.75 144.00 L52.46 144.70 L53.15 145.41 L53.84 146.13 L54.51 146.87 L55.17 147.61 L55.82 148.37 L56.46 149.13 L57.09 149.90 L57.71 150.68 L58.32 151.47 L58.93 152.26 L59.52 153.06 L60.11 153.87 L60.70 154.68 L61.28 155.49 L61.86 156.31 L62.43 157.13 L63.00 157.95 L63.56 158.77 L64.13 159.60 L64.69 160.42 L65.25 161.25 L65.81 162.08 L66.36 162.91 L66.91 163.74 L67.46 164.58 L68.00 165.42 L68.54 166.26 L69.07 167.11 L69.59 167.96 L70.11 168.81 L70.62 169.67 L71.13 170.53 L71.62 171.40 L72.11 172.27 L72.59 173.15 L73.07 174.03 L73.53 174.91 L73.99 175.80 L74.44 176.69 L74.88 177.58 L75.31 178.48 L75.74 179.39 L76.15 180.30 L76.56 181.21 L76.95 182.12 L77.34 183.04 L77.71 183.97 L78.08 184.90 L78.43 185.83 L78.78 186.77 L79.11 187.71 L79.44 188.65 L79.76 189.60 L80.07 190.55 L80.37 191.50 L80.67 192.45 L80.96 193.41 L81.24 194.37 L81.51 195.33 L81.78 196.29 L82.04 197.25 L82.30 198.22 L82.55 199.19 L82.79 200.15 L83.02 201.13 L83.24 202.10 L83.46 203.07 L83.66 204.05 L83.85 205.03 L84.03 206.01 L84.20 206.99 L84.35 207.98 L84.50 208.96 L84.63 209.95 L84.76 210.94 L84.88 211.93 L84.98 212.93 L85.08 213.92 L85.18 214.92 L85.27 215.91 L85.35 216.91 L85.43 217.90 L85.51 218.90 L85.59 219.90 L85.67 220.89 L85.74 221.89 L85.82 222.89 L85.89 223.88 L85.96 224.88 L86.04 225.88 L86.11 226.88 L86.19 227.87 L86.26 228.87 L86.33 229.87 L86.41 230.87 L86.48 231.86 L86.55 232.86 L86.62 233.86 L86.69 234.86 L86.75 235.85 L86.82 236.85 L86.88 237.85 L86.94 238.85 L87.00 239.85 L87.06 240.84 L87.11 241.84 L87.17 242.84 L87.22 243.84 L87.27 244.84 L87.31 245.84 L87.36 246.84 L87.40 247.83 L87.44 248.83 L87.48 249.83 L87.52 250.83 L87.56 251.83 L87.59 252.83 L87.63 253.83 L87.66 254.83 L87.69 255.83 L87.72 256.83 L87.75 257.82 L87.77 258.82" fill="none" stroke="#000" stroke-width="2.0" stroke-linejoin="round"/>
<path d="M87.97 269.61 L87.98 270.56 L87.99 271.52 L88.00 272.00" fill="none" stroke="#000" stroke-width="2.0" stroke-linejoin="round"/>

<path d="M45.00 166.20 L45.47 167.08 L45.95 167.96 L46.42 168.84 L46.89 169.72 L47.36 170.61 L47.83 171.49 L48.29 172.38 L48.76 173.26 L49.22 174.15 L49.67 175.04 L50.12 175.93 L50.57 176.83 L51.01 177.72 L51.45 178.62 L51.88 179.52 L52.31 180.43 L52.73 181.33 L53.15 182.24 L53.56 183.15 L53.96 184.06 L54.37 184.98 L54.76 185.89 L55.15 186.81 L55.54 187.74 L55.92 188.66 L56.29 189.59 L56.65 190.52 L57.01 191.45 L57.36 192.38 L57.69 193.32 L58.02 194.26 L58.33 195.21 L58.64 196.16 L58.94 197.11 L59.22 198.07 L59.50 199.03 L59.77 199.99 L60.03 200.95 L60.29 201.92 L60.54 202.88 L60.78 203.85 L61.03 204.82 L61.27 205.79 L61.50 206.76 L61.74 207.74 L61.97 208.71 L62.20 209.68 L62.43 210.65 L62.65 211.63 L62.87 212.60 L63.09 213.58 L63.31 214.56 L63.52 215.53 L63.72 216.51 L63.92 217.49 L64.12 218.47 L64.31 219.45 L64.49 220.43 L64.67 221.42 L64.84 222.40 L65.01 223.39 L65.17 224.37 L65.33 225.36 L65.48 226.35 L65.62 227.34 L65.76 228.33 L65.89 229.32 L66.02 230.31 L66.14 231.30 L66.26 232.29 L66.38 233.29 L66.48 234.28 L66.59 235.27 L66.69 236.27 L66.78 237.26 L66.87 238.26 L66.96 239.26 L67.04 240.25 L67.12 241.25 L67.19 242.25 L67.26 243.24 L67.32 244.24 L67.39 245.24 L67.44 246.24 L67.50 247.23 L67.55 248.23 L67.59 249.23 L67.64 250.23 L67.68 251.23 L67.71 252.23 L67.74 253.23 L67.77 254.23 L67.80 255.23 L67.82 256.23 L67.85 257.22 L67.86 258.22 L67.88 259.22" fill="none" stroke="#000" stroke-width="2.0" stroke-linejoin="round"/>
<path d="M67.99 270.06 L67.99 271.03 L68.00 272.00 L68.00 272.00" fill="none" stroke="#000" stroke-width="2.0" stroke-linejoin="round"/>

</g>
<g transform="translate(58 17.5) rotate(0) translate(-4 -2.6)" fill="none" stroke="#1a1aff" stroke-width="0.75" stroke-linecap="round" stroke-linejoin="round"><path d="M0.9 0 L3.6 0 L1.9 2.0 C3.6 1.8 3.5 5 1.3 5 C0.6 5 0.1 4.6 0 4.0"/><path d="M7.9 1.9 L5.6 1.9 C3.6 1.9 3.2 5 5.0 5 C6.9 5 7.3 1.9 5.6 1.9"/></g>
<g transform="translate(58 22.8) rotate(0) translate(-4 -2.6)" fill="none" stroke="#ff1a1a" stroke-width="0.75" stroke-linecap="round" stroke-linejoin="round"><path d="M0.9 0 L3.6 0 L1.9 2.0 C3.6 1.8 3.5 5 1.3 5 C0.6 5 0.1 4.6 0 4.0"/><path d="M7.9 1.9 L5.6 1.9 C3.6 1.9 3.2 5 5.0 5 C6.9 5 7.3 1.9 5.6 1.9"/></g>
<g transform="translate(58 31) rotate(0) translate(-4 -2.6)" fill="none" stroke="#000" stroke-width="0.75" stroke-linecap="round" stroke-linejoin="round"><path d="M0.9 0 L3.6 0 L1.9 2.0 C3.6 1.8 3.5 5 1.3 5 C0.6 5 0.1 4.6 0 4.0"/><path d="M7.9 1.9 L5.6 1.9 C3.6 1.9 3.2 5 5.0 5 C6.9 5 7.3 1.9 5.6 1.9"/></g>
<g transform="translate(60.5 44.5) rotate(4) translate(-4 -2.6)" fill="none" stroke="#ff1a1a" stroke-width="0.75" stroke-linecap="round" stroke-linejoin="round"><path d="M0.9 1.1 C1.1 -0.3 3.6 -0.3 3.3 1.3 C3.1 2.6 0.4 3.6 0 5 L2.9 5"/><path d="M7.9 1.9 L5.6 1.9 C3.6 1.9 3.2 5 5.0 5 C6.9 5 7.3 1.9 5.6 1.9"/></g>
<g transform="translate(57 48.2) rotate(4) translate(-4 -2.6)" fill="none" stroke="#1a1aff" stroke-width="0.75" stroke-linecap="round" stroke-linejoin="round"><path d="M0.9 1.1 C1.1 -0.3 3.6 -0.3 3.3 1.3 C3.1 2.6 0.4 3.6 0 5 L2.9 5"/><path d="M7.9 1.9 L5.6 1.9 C3.6 1.9 3.2 5 5.0 5 C6.9 5 7.3 1.9 5.6 1.9"/></g>
<g transform="translate(57.5 51.8) rotate(4) translate(-4 -2.6)" fill="none" stroke="#000" stroke-width="0.75" stroke-linecap="round" stroke-linejoin="round"><path d="M0.9 1.1 C1.1 -0.3 3.6 -0.3 3.3 1.3 C3.1 2.6 0.4 3.6 0 5 L2.9 5"/><path d="M7.9 1.9 L5.6 1.9 C3.6 1.9 3.2 5 5.0 5 C6.9 5 7.3 1.9 5.6 1.9"/></g>
<g transform="translate(55.5 62) rotate(6) translate(-4 -2.6)" fill="none" stroke="#ff1a1a" stroke-width="0.75" stroke-linecap="round" stroke-linejoin="round"><path d="M0.8 1.2 L2.0 0 L1.3 5"/><path d="M7.9 1.9 L5.6 1.9 C3.6 1.9 3.2 5 5.0 5 C6.9 5 7.3 1.9 5.6 1.9"/></g>
<g transform="translate(56.5 73) rotate(12) translate(-4 -2.6)" fill="none" stroke="#000" stroke-width="0.75" stroke-linecap="round" stroke-linejoin="round"><path d="M0.8 1.2 L2.0 0 L1.3 5"/><path d="M7.9 1.9 L5.6 1.9 C3.6 1.9 3.2 5 5.0 5 C6.9 5 7.3 1.9 5.6 1.9"/></g>
<g transform="translate(58 74) rotate(12) translate(-4 -2.6)" fill="none" stroke="#1a1aff" stroke-width="0.75" stroke-linecap="round" stroke-linejoin="round"><path d="M0.8 1.2 L2.0 0 L1.3 5"/><path d="M7.9 1.9 L5.6 1.9 C3.6 1.9 3.2 5 5.0 5 C6.9 5 7.3 1.9 5.6 1.9"/></g>
<g transform="translate(264.5 23) rotate(2) translate(-4 -2.6)" fill="none" stroke="#1a1aff" stroke-width="0.75" stroke-linecap="round" stroke-linejoin="round"><path d="M0.9 0 L3.6 0 L1.9 2.0 C3.6 1.8 3.5 5 1.3 5 C0.6 5 0.1 4.6 0 4.0"/><path d="M7.9 1.9 L5.6 1.9 C3.6 1.9 3.2 5 5.0 5 C6.9 5 7.3 1.9 5.6 1.9"/></g>
<g transform="translate(264.5 31.1) rotate(4) translate(-4 -2.6)" fill="none" stroke="#ff1a1a" stroke-width="0.75" stroke-linecap="round" stroke-linejoin="round"><path d="M0.9 0 L3.6 0 L1.9 2.0 C3.6 1.8 3.5 5 1.3 5 C0.6 5 0.1 4.6 0 4.0"/><path d="M7.9 1.9 L5.6 1.9 C3.6 1.9 3.2 5 5.0 5 C6.9 5 7.3 1.9 5.6 1.9"/></g>
<g transform="translate(264.5 47.6) rotate(6) translate(-4 -2.6)" fill="none" stroke="#000" stroke-width="0.75" stroke-linecap="round" stroke-linejoin="round"><path d="M0.9 0 L3.6 0 L1.9 2.0 C3.6 1.8 3.5 5 1.3 5 C0.6 5 0.1 4.6 0 4.0"/><path d="M7.9 1.9 L5.6 1.9 C3.6 1.9 3.2 5 5.0 5 C6.9 5 7.3 1.9 5.6 1.9"/></g>
<g transform="translate(250 77.5) rotate(15) translate(-4 -2.6)" fill="none" stroke="#ff1a1a" stroke-width="0.75" stroke-linecap="round" stroke-linejoin="round"><path d="M0.9 1.1 C1.1 -0.3 3.6 -0.3 3.3 1.3 C3.1 2.6 0.4 3.6 0 5 L2.9 5"/><path d="M7.9 1.9 L5.6 1.9 C3.6 1.9 3.2 5 5.0 5 C6.9 5 7.3 1.9 5.6 1.9"/></g>
<g transform="translate(257 79.5) rotate(15) translate(-4 -2.6)" fill="none" stroke="#1a1aff" stroke-width="0.75" stroke-linecap="round" stroke-linejoin="round"><path d="M0.9 1.1 C1.1 -0.3 3.6 -0.3 3.3 1.3 C3.1 2.6 0.4 3.6 0 5 L2.9 5"/><path d="M7.9 1.9 L5.6 1.9 C3.6 1.9 3.2 5 5.0 5 C6.9 5 7.3 1.9 5.6 1.9"/></g>
<g transform="translate(253.5 95.5) rotate(28) translate(-4 -2.6)" fill="none" stroke="#000" stroke-width="0.75" stroke-linecap="round" stroke-linejoin="round"><path d="M0.9 1.1 C1.1 -0.3 3.6 -0.3 3.3 1.3 C3.1 2.6 0.4 3.6 0 5 L2.9 5"/><path d="M7.9 1.9 L5.6 1.9 C3.6 1.9 3.2 5 5.0 5 C6.9 5 7.3 1.9 5.6 1.9"/></g>
<g transform="translate(228.3 136) rotate(55) translate(-4 -2.6)" fill="none" stroke="#ff1a1a" stroke-width="0.75" stroke-linecap="round" stroke-linejoin="round"><path d="M0.8 1.2 L2.0 0 L1.3 5"/><path d="M7.9 1.9 L5.6 1.9 C3.6 1.9 3.2 5 5.0 5 C6.9 5 7.3 1.9 5.6 1.9"/></g>
<g transform="translate(229.5 146) rotate(50) translate(-4 -2.6)" fill="none" stroke="#1a1aff" stroke-width="0.75" stroke-linecap="round" stroke-linejoin="round"><path d="M0.8 1.2 L2.0 0 L1.3 5"/><path d="M7.9 1.9 L5.6 1.9 C3.6 1.9 3.2 5 5.0 5 C6.9 5 7.3 1.9 5.6 1.9"/></g>
<g transform="translate(221 152.5) rotate(62) translate(-4 -2.6)" fill="none" stroke="#000" stroke-width="0.75" stroke-linecap="round" stroke-linejoin="round"><path d="M0.8 1.2 L2.0 0 L1.3 5"/><path d="M7.9 1.9 L5.6 1.9 C3.6 1.9 3.2 5 5.0 5 C6.9 5 7.3 1.9 5.6 1.9"/></g>
<g transform="translate(308 219) rotate(-75) translate(-4 -2.6)" fill="none" stroke="#000" stroke-width="0.75" stroke-linecap="round" stroke-linejoin="round"><path d="M0.9 1.1 C1.1 -0.3 3.6 -0.3 3.3 1.3 C3.1 2.6 0.4 3.6 0 5 L2.9 5"/><path d="M7.9 1.9 L5.6 1.9 C3.6 1.9 3.2 5 5.0 5 C6.9 5 7.3 1.9 5.6 1.9"/></g>
<g transform="translate(311 242.5) rotate(-65) translate(-4 -2.6)" fill="none" stroke="#ff1a1a" stroke-width="0.75" stroke-linecap="round" stroke-linejoin="round"><path d="M0.9 1.1 C1.1 -0.3 3.6 -0.3 3.3 1.3 C3.1 2.6 0.4 3.6 0 5 L2.9 5"/><path d="M7.9 1.9 L5.6 1.9 C3.6 1.9 3.2 5 5.0 5 C6.9 5 7.3 1.9 5.6 1.9"/></g>
<g transform="translate(66 125.2) rotate(35) translate(-4 -2.6)" fill="none" stroke="#ff1a1a" stroke-width="0.75" stroke-linecap="round" stroke-linejoin="round"><path d="M0.8 1.2 L2.0 0 L1.3 5"/><path d="M7.9 1.9 L5.6 1.9 C3.6 1.9 3.2 5 5.0 5 C6.9 5 7.3 1.9 5.6 1.9"/></g>
<g transform="translate(65.2 125.9) rotate(35) translate(-4 -2.6)" fill="none" stroke="#000" stroke-width="0.75" stroke-linecap="round" stroke-linejoin="round"><path d="M0.8 1.2 L2.0 0 L1.3 5"/><path d="M7.9 1.9 L5.6 1.9 C3.6 1.9 3.2 5 5.0 5 C6.9 5 7.3 1.9 5.6 1.9"/></g>
<g transform="translate(51.7 264) rotate(90) translate(-4 -2.6)" fill="none" stroke="#1a1aff" stroke-width="0.75" stroke-linecap="round" stroke-linejoin="round"><path d="M0.9 0 L3.6 0 L1.9 2.0 C3.6 1.8 3.5 5 1.3 5 C0.6 5 0.1 4.6 0 4.0"/><path d="M7.9 1.9 L5.6 1.9 C3.6 1.9 3.2 5 5.0 5 C6.9 5 7.3 1.9 5.6 1.9"/></g>
<g transform="translate(62.2 264.3) rotate(-90) translate(-4 -2.6)" fill="none" stroke="#ff1a1a" stroke-width="0.75" stroke-linecap="round" stroke-linejoin="round"><path d="M0.9 0 L3.6 0 L1.9 2.0 C3.6 1.8 3.5 5 1.3 5 C0.6 5 0.1 4.6 0 4.0"/><path d="M7.9 1.9 L5.6 1.9 C3.6 1.9 3.2 5 5.0 5 C6.9 5 7.3 1.9 5.6 1.9"/></g>
<g transform="translate(67.7 264.3) rotate(-90) translate(-4 -2.6)" fill="none" stroke="#000" stroke-width="0.75" stroke-linecap="round" stroke-linejoin="round"><path d="M0.9 0 L3.6 0 L1.9 2.0 C3.6 1.8 3.5 5 1.3 5 C0.6 5 0.1 4.6 0 4.0"/><path d="M7.9 1.9 L5.6 1.9 C3.6 1.9 3.2 5 5.0 5 C6.9 5 7.3 1.9 5.6 1.9"/></g>
<g transform="translate(77.2 264) rotate(90) translate(-4 -2.6)" fill="none" stroke="#1a1aff" stroke-width="0.75" stroke-linecap="round" stroke-linejoin="round"><path d="M0.9 1.1 C1.1 -0.3 3.6 -0.3 3.3 1.3 C3.1 2.6 0.4 3.6 0 5 L2.9 5"/><path d="M7.9 1.9 L5.6 1.9 C3.6 1.9 3.2 5 5.0 5 C6.9 5 7.3 1.9 5.6 1.9"/></g>
<g transform="translate(83.7 264.3) rotate(-90) translate(-4 -2.6)" fill="none" stroke="#ff1a1a" stroke-width="0.75" stroke-linecap="round" stroke-linejoin="round"><path d="M0.9 1.1 C1.1 -0.3 3.6 -0.3 3.3 1.3 C3.1 2.6 0.4 3.6 0 5 L2.9 5"/><path d="M7.9 1.9 L5.6 1.9 C3.6 1.9 3.2 5 5.0 5 C6.9 5 7.3 1.9 5.6 1.9"/></g>
<g transform="translate(88 264.3) rotate(-90) translate(-4 -2.6)" fill="none" stroke="#000" stroke-width="0.75" stroke-linecap="round" stroke-linejoin="round"><path d="M0.9 1.1 C1.1 -0.3 3.6 -0.3 3.3 1.3 C3.1 2.6 0.4 3.6 0 5 L2.9 5"/><path d="M7.9 1.9 L5.6 1.9 C3.6 1.9 3.2 5 5.0 5 C6.9 5 7.3 1.9 5.6 1.9"/></g>
<g transform="translate(106.3 262.2) rotate(-90) translate(-4 -2.6)" fill="none" stroke="#ff1a1a" stroke-width="0.75" stroke-linecap="round" stroke-linejoin="round"><path d="M0.8 1.2 L2.0 0 L1.3 5"/><path d="M7.9 1.9 L5.6 1.9 C3.6 1.9 3.2 5 5.0 5 C6.9 5 7.3 1.9 5.6 1.9"/></g>
<g transform="translate(106.0 264.5) rotate(90) translate(-4 -2.6)" fill="none" stroke="#1a1aff" stroke-width="0.75" stroke-linecap="round" stroke-linejoin="round"><path d="M0.8 1.2 L2.0 0 L1.3 5"/><path d="M7.9 1.9 L5.6 1.9 C3.6 1.9 3.2 5 5.0 5 C6.9 5 7.3 1.9 5.6 1.9"/></g>
<g transform="translate(112.0 262.8) rotate(-90) translate(-4 -2.6)" fill="none" stroke="#000" stroke-width="0.75" stroke-linecap="round" stroke-linejoin="round"><path d="M0.8 1.2 L2.0 0 L1.3 5"/><path d="M7.9 1.9 L5.6 1.9 C3.6 1.9 3.2 5 5.0 5 C6.9 5 7.3 1.9 5.6 1.9"/></g>
<g clip-path="url(#cr)">
<path d="M316.20 9.00 L316.37 9.99 L316.54 10.97 L316.72 11.95 L316.90 12.94 L317.09 13.92 L317.29 14.90 L317.50 15.87 L317.72 16.84 L317.97 17.81 L318.22 18.78 L318.50 19.73 L318.79 20.69 L319.10 21.64 L319.42 22.58 L319.77 23.52 L320.13 24.45 L320.50 25.37 L320.89 26.29 L321.29 27.20 L321.71 28.11 L322.15 29.01 L322.59 29.90 L323.06 30.78 L323.53 31.66 L324.02 32.53 L324.53 33.39 L325.05 34.24 L325.58 35.09 L326.12 35.93 L326.68 36.76 L327.25 37.58 L327.83 38.39 L328.42 39.19 L329.03 39.98 L329.65 40.76 L330.28 41.54 L330.92 42.30 L331.58 43.05 L332.24 43.80 L332.91 44.54 L333.60 45.27 L334.29 45.99 L334.98 46.71 L335.69 47.42 L336.39 48.12 L337.11 48.82 L337.83 49.52 L338.55 50.21 L339.27 50.90 L340.00 51.58 L340.73 52.26 L341.47 52.94 L342.20 53.62 L342.93 54.30 L343.67 54.98 L344.40 55.66 L345.14 56.34 L345.87 57.02 L346.60 57.70 L347.33 58.38 L348.06 59.06 L348.80 59.74 L349.54 60.41 L350.29 61.07 L351.04 61.73 L351.80 62.38 L352.56 63.02 L353.33 63.66 L354.11 64.28 L354.89 64.91 L355.68 65.52 L356.47 66.14 L357.26 66.75 L358.06 67.35 L358.85 67.96 L359.65 68.56 L360.45 69.16 L361.25 69.76 L362.05 70.36 L362.85 70.96 L363.66 71.55 L364.46 72.15 L365.27 72.74 L366.07 73.33 L366.88 73.93 L367.68 74.52 L368.49 75.11 L369.30 75.70 L370.11 76.28 L370.92 76.87 L371.73 77.46 L372.54 78.04 L373.35 78.62 L374.17 79.20 L374.98 79.78 L375.80 80.36 L376.61 80.94 L377.43 81.52 L378.25 82.09 L379.07 82.67 L379.88 83.24 L380.70 83.82 L381.52 84.39 L382.34 84.96 L383.16 85.53 L383.98 86.11 L384.80 86.68 L385.62 87.25 L386.44 87.82 L387.26 88.39 L388.09 88.96 L388.91 89.53 L389.73 90.10 L390.55 90.67 L391.38 91.24 L392.20 91.80 L393.02 92.37 L393.85 92.94 L394.67 93.50 L395.50 94.07 L396.33 94.63 L397.15 95.20 L397.97 95.76 L398.80 96.33 L399.62 96.90 L400.44 97.47 L401.26 98.05 L402.07 98.63 L402.88 99.21 L403.69 99.80 L404.49 100.40 L405.29 101.00 L406.08 101.61 L406.86 102.24 L407.63 102.87 L408.39 103.51 L409.14 104.17 L409.88 104.83 L410.61 105.51 L411.33 106.21 L412.04 106.91 L412.74 107.62 L413.43 108.35 L414.11 109.08 L414.79 109.81 L415.46 110.55 L416.13 111.29 L416.80 112.04 L417.46 112.79 L418.12 113.54 L418.77 114.29 L419.43 115.05 L420.08 115.81 L420.73 116.57 L421.37 117.33 L422.02 118.10 L422.65 118.87 L423.29 119.64 L423.91 120.42 L424.53 121.21 L425.14 122.00 L425.74 122.79 L426.34 123.60 L426.91 124.41 L427.48 125.23 L428.03 126.06 L428.56 126.91 L429.07 127.76 L429.56 128.63 L430.02 129.51 L430.46 130.40 L430.88 131.30 L431.27 132.21 L431.64 133.14 L431.98 134.07 L432.29 135.02 L432.58 135.97 L432.85 136.93 L433.10 137.89 L433.32 138.86 L433.52 139.84 L433.70 140.82 L433.86 141.80 L434.00 142.79 L434.12 143.78 L434.22 144.77 L434.29 145.76 L434.35 146.76 L434.39 147.75 L434.40 148.75 L434.40 149.74 L434.38 150.74 L434.35 151.74 L434.30 152.73 L434.24 153.73 L434.18 154.73 L434.10 155.72 L434.02 156.72 L433.92 157.71 L433.82 158.71 L433.71 159.70 L433.59 160.69 L433.46 161.68 L433.32 162.67 L433.17 163.66 L433.02 164.65 L432.87 165.64 L432.71 166.63 L432.55 167.61 L432.38 168.60 L432.21 169.58 L432.04 170.57 L431.86 171.55 L431.69 172.54 L431.51 173.52 L431.33 174.51 L431.14 175.49 L430.96 176.47 L430.77 177.45 L430.59 178.44 L430.40 179.42 L430.21 180.40 L430.02 181.38 L429.83 182.36 L429.63 183.34 L429.44 184.33 L429.25 185.31 L429.05 186.29 L428.86 187.27 L428.66 188.25 L428.46 189.23 L428.27 190.21 L428.07 191.19 L427.87 192.17 L427.67 193.15 L427.47 194.13 L427.26 195.11 L427.06 196.09 L426.85 197.07 L426.65 198.04 L426.44 199.02 L426.22 200.00 L426.01 200.97 L425.79 201.95 L425.57 202.92 L425.34 203.90 L425.11 204.87 L424.88 205.85 L424.65 206.82 L424.42 207.79 L424.18 208.76 L423.95 209.74 L423.72 210.71 L423.49 211.68 L423.26 212.66 L423.04 213.63 L422.82 214.61 L422.61 215.58 L422.40 216.56 L422.19 217.54 L421.99 218.52 L421.79 219.50 L421.59 220.48 L421.40 221.46 L421.22 222.44 L421.03 223.42 L420.86 224.41 L420.68 225.39 L420.51 226.38 L420.35 227.36 L420.19 228.35 L420.03 229.34 L419.88 230.33 L419.73 231.32 L419.58 232.30 L419.43 233.29 L419.29 234.28 L419.15 235.27 L419.01 236.26 L418.88 237.25 L418.74 238.25 L418.61 239.24 L418.47 240.23 L418.34 241.22 L418.21 242.21 L418.08 243.20 L417.95 244.19 L417.82 245.18 L417.70 246.18 L417.57 247.17 L417.45 248.16 L417.32 249.15 L417.20 250.15 L417.08 251.14 L416.96 252.13 L416.84 253.12 L416.72 254.12 L416.60 255.11 L416.49 256.10 L416.38 257.10 L416.27 258.09 L416.16 259.08 L416.05 260.08 L415.95 261.07 L415.85 262.07 L415.75 263.06 L415.65 264.06 L415.55 265.05 L415.46 266.05 L415.36 267.04 L415.27 268.03 L415.18 269.03 L415.08 270.02 L414.99 271.01 L414.90 272.00 L414.90 272.00" fill="none" stroke="#1a1aff" stroke-width="1.35" stroke-linejoin="round"/>

<path d="M315.00 9.00 L315.11 9.99 L315.22 10.99 L315.34 11.98 L315.46 12.97 L315.59 13.96 L315.72 14.95 L315.86 15.94 L316.01 16.93 L316.18 17.92 L316.35 18.90 L316.55 19.88 L316.76 20.85 L316.99 21.82 L317.23 22.79 L317.50 23.75 L317.79 24.70 L318.11 25.64 L318.44 26.58 L318.80 27.50 L319.19 28.42 L319.60 29.33 L320.03 30.23 L320.48 31.11 L320.96 31.99 L321.45 32.85 L321.97 33.70 L322.50 34.54 L323.06 35.37 L323.63 36.19 L324.22 36.99 L324.83 37.78 L325.45 38.55 L326.10 39.31 L326.75 40.06 L327.43 40.80 L328.11 41.52 L328.81 42.23 L329.53 42.93 L330.25 43.61 L330.99 44.28 L331.74 44.94 L332.50 45.58 L333.28 46.21 L334.06 46.83 L334.86 47.43 L335.67 48.01 L336.49 48.58 L337.32 49.13 L338.16 49.66 L339.01 50.18 L339.87 50.69 L340.74 51.18 L341.61 51.66 L342.49 52.14 L343.38 52.60 L344.27 53.06 L345.16 53.51 L346.05 53.95 L346.95 54.40 L347.85 54.84 L348.75 55.27 L349.65 55.71 L350.55 56.14 L351.45 56.57 L352.35 57.00 L353.26 57.43 L354.16 57.86 L355.07 58.28 L355.98 58.70 L356.89 59.12 L357.79 59.53 L358.71 59.94 L359.62 60.35 L360.53 60.76 L361.45 61.16 L362.36 61.56 L363.28 61.96 L364.20 62.36 L365.12 62.75 L366.03 63.15 L366.95 63.54 L367.87 63.94 L368.79 64.34 L369.71 64.74 L370.62 65.14 L371.54 65.54 L372.45 65.94 L373.37 66.35 L374.28 66.75 L375.20 67.16 L376.11 67.56 L377.02 67.97 L377.94 68.38 L378.85 68.79 L379.76 69.20 L380.67 69.61 L381.58 70.02 L382.49 70.44 L383.40 70.85 L384.31 71.27 L385.22 71.69 L386.13 72.11 L387.03 72.53 L387.94 72.96 L388.84 73.38 L389.75 73.81 L390.65 74.24 L391.55 74.67 L392.45 75.10 L393.35 75.54 L394.25 75.97 L395.15 76.41 L396.05 76.85 L396.95 77.29 L397.85 77.73 L398.74 78.18 L399.64 78.62 L400.53 79.07 L401.42 79.53 L402.31 79.98 L403.20 80.44 L404.09 80.90 L404.97 81.37 L405.85 81.84 L406.73 82.32 L407.61 82.80 L408.48 83.28 L409.35 83.78 L410.22 84.28 L411.07 84.79 L411.93 85.30 L412.77 85.84 L413.61 86.38 L414.44 86.93 L415.26 87.50 L416.07 88.08 L416.88 88.67 L417.67 89.28 L418.45 89.90 L419.22 90.53 L419.99 91.17 L420.74 91.83 L421.48 92.49 L422.22 93.17 L422.93 93.86 L423.64 94.57 L424.32 95.29 L424.99 96.03 L425.64 96.78 L426.26 97.55 L426.86 98.34 L427.44 99.15 L427.99 99.98 L428.51 100.82 L429.01 101.68 L429.48 102.55 L429.92 103.44 L430.33 104.34 L430.72 105.26 L431.08 106.18 L431.41 107.12 L431.72 108.07 L432.00 109.02 L432.25 109.98 L432.47 110.95 L432.65 111.92 L432.81 112.90 L432.94 113.88 L433.04 114.87 L433.11 115.86 L433.15 116.86 L433.17 117.85 L433.17 118.85 L433.15 119.84 L433.12 120.84 L433.07 121.84 L433.00 122.84 L432.93 123.83 L432.84 124.83 L432.74 125.82 L432.63 126.81 L432.51 127.81 L432.38 128.79 L432.23 129.78 L432.07 130.77 L431.90 131.75 L431.71 132.73 L431.50 133.70 L431.27 134.68 L431.03 135.64 L430.77 136.61 L430.50 137.57 L430.21 138.52 L429.91 139.47 L429.60 140.42 L429.29 141.37 L428.97 142.32 L428.66 143.27 L428.35 144.22 L428.04 145.17 L427.73 146.12 L427.43 147.08 L427.13 148.03 L426.84 148.99 L426.56 149.95 L426.28 150.91 L426.00 151.87 L425.72 152.83 L425.45 153.79 L425.18 154.75 L424.92 155.72 L424.66 156.68 L424.40 157.65 L424.14 158.61 L423.88 159.58 L423.63 160.55 L423.38 161.52 L423.13 162.48 L422.89 163.45 L422.64 164.42 L422.40 165.39 L422.17 166.37 L421.93 167.34 L421.71 168.31 L421.48 169.29 L421.26 170.26 L421.05 171.24 L420.84 172.22 L420.64 173.19 L420.44 174.18 L420.25 175.16 L420.07 176.14 L419.89 177.12 L419.71 178.11 L419.54 179.09 L419.36 180.07 L419.18 181.06 L419.00 182.04 L418.81 183.02 L418.62 184.00 L418.42 184.98 L418.22 185.96 L418.01 186.94 L417.79 187.91 L417.57 188.89 L417.34 189.86 L417.12 190.84 L416.89 191.81 L416.67 192.79 L416.45 193.76 L416.24 194.74 L416.04 195.72 L415.85 196.70 L415.66 197.68 L415.48 198.66 L415.32 199.65 L415.16 200.64 L415.01 201.62 L414.86 202.61 L414.72 203.60 L414.59 204.59 L414.46 205.58 L414.33 206.58 L414.21 207.57 L414.09 208.56 L413.97 209.55 L413.86 210.55 L413.74 211.54 L413.63 212.54 L413.52 213.53 L413.41 214.52 L413.30 215.52 L413.19 216.51 L413.08 217.51 L412.98 218.50 L412.87 219.49 L412.76 220.49 L412.66 221.48 L412.55 222.48 L412.44 223.47 L412.34 224.47 L412.23 225.46 L412.13 226.45 L412.02 227.45 L411.92 228.44 L411.82 229.44 L411.72 230.43 L411.63 231.43 L411.53 232.42 L411.44 233.42 L411.34 234.42 L411.25 235.41 L411.17 236.41 L411.08 237.40 L410.99 238.40 L410.91 239.40 L410.83 240.39 L410.75 241.39 L410.67 242.39 L410.59 243.38 L410.51 244.38 L410.43 245.38 L410.35 246.37 L410.28 247.37 L410.20 248.37 L410.13 249.37 L410.06 250.36 L409.98 251.36 L409.91 252.36 L409.84 253.36 L409.76 254.35 L409.69 255.35 L409.62 256.35 L409.55 257.34 L409.48 258.34 L409.40 259.34 L409.33 260.34 L409.26 261.33 L409.19 262.33 L409.12 263.32 L409.05 264.31 L408.98 265.30 L408.91 266.28 L408.84 267.25 L408.77 268.22 L408.70 269.18 L408.63 270.12 L408.57 271.06 L408.50 272.00 L408.50 272.00" fill="none" stroke="#ff1a1a" stroke-width="1.35" stroke-linejoin="round"/>

<path d="M314.40 9.00 L314.42 10.00 L314.44 11.00 L314.46 12.00 L314.48 13.00 L314.51 14.00 L314.53 15.00 L314.57 16.00 L314.61 17.00 L314.65 17.99 L314.70 18.99 L314.77 19.99 L314.84 20.99 L314.92 21.98 L315.02 22.98 L315.13 23.97 L315.25 24.96 L315.38 25.95 L315.53 26.94 L315.69 27.92 L315.86 28.91 L316.04 29.89 L316.23 30.87 L316.44 31.85 L316.66 32.82 L316.90 33.79 L317.14 34.76 L317.41 35.72 L317.69 36.68 L317.98 37.63 L318.31 38.57 L318.65 39.50 L319.02 40.42 L319.42 41.33 L319.85 42.22 L320.31 43.09 L320.80 43.95 L321.33 44.79 L321.88 45.61 L322.46 46.41 L323.07 47.19 L323.71 47.96 L324.37 48.70 L325.05 49.43 L325.74 50.13 L326.46 50.82 L327.20 51.49 L327.95 52.14 L328.72 52.76 L329.51 53.37 L330.31 53.96 L331.13 54.53 L331.96 55.08 L332.80 55.62 L333.64 56.15 L334.50 56.66 L335.36 57.17 L336.22 57.68 L337.08 58.19 L337.94 58.69 L338.80 59.20 L339.66 59.71 L340.52 60.23 L341.37 60.75 L342.22 61.27 L343.07 61.80 L343.91 62.34 L344.76 62.87 L345.60 63.41 L346.44 63.95 L347.29 64.48 L348.14 65.01 L348.99 65.54 L349.84 66.05 L350.71 66.56 L351.57 67.05 L352.44 67.54 L353.32 68.02 L354.20 68.49 L355.09 68.95 L355.98 69.40 L356.88 69.84 L357.78 70.28 L358.68 70.72 L359.58 71.14 L360.48 71.57 L361.39 71.99 L362.30 72.41 L363.21 72.83 L364.11 73.25 L365.02 73.66 L365.93 74.08 L366.84 74.49 L367.75 74.91 L368.66 75.32 L369.57 75.74 L370.48 76.15 L371.39 76.57 L372.30 76.98 L373.21 77.40 L374.12 77.81 L375.03 78.23 L375.94 78.64 L376.86 79.05 L377.77 79.46 L378.68 79.88 L379.59 80.29 L380.50 80.70 L381.41 81.12 L382.32 81.53 L383.23 81.95 L384.13 82.37 L385.04 82.79 L385.95 83.22 L386.85 83.64 L387.75 84.07 L388.66 84.50 L389.56 84.94 L390.46 85.37 L391.36 85.81 L392.25 86.25 L393.15 86.69 L394.05 87.14 L394.94 87.58 L395.84 88.03 L396.73 88.48 L397.62 88.93 L398.52 89.38 L399.41 89.83 L400.29 90.29 L401.18 90.75 L402.07 91.21 L402.95 91.68 L403.83 92.15 L404.71 92.63 L405.59 93.11 L406.46 93.60 L407.33 94.09 L408.19 94.60 L409.05 95.11 L409.90 95.63 L410.75 96.16 L411.58 96.71 L412.41 97.26 L413.24 97.83 L414.05 98.41 L414.86 99.00 L415.65 99.60 L416.44 100.21 L417.22 100.83 L417.99 101.47 L418.75 102.12 L419.50 102.78 L420.23 103.45 L420.96 104.14 L421.67 104.84 L422.36 105.55 L423.05 106.27 L423.71 107.02 L424.35 107.77 L424.97 108.55 L425.57 109.34 L426.14 110.15 L426.69 110.98 L427.21 111.82 L427.70 112.68 L428.17 113.56 L428.61 114.45 L429.04 115.35 L429.44 116.26 L429.83 117.18 L430.20 118.10 L430.56 119.04 L430.90 119.97 L431.22 120.92 L431.53 121.87 L431.82 122.82 L432.10 123.78 L432.36 124.74 L432.61 125.71 L432.84 126.68 L433.05 127.65 L433.24 128.63 L433.41 129.62 L433.56 130.60 L433.70 131.59 L433.81 132.58 L433.91 133.57 L433.99 134.57 L434.06 135.56 L434.11 136.56 L434.15 137.56 L434.17 138.56 L434.18 139.55 L434.18 140.55 L434.17 141.55 L434.15 142.55 L434.12 143.55 L434.09 144.55 L434.04 145.55 L433.99 146.55 L433.94 147.54 L433.88 148.54 L433.82 149.54 L433.75 150.54 L433.67 151.53 L433.59 152.53 L433.51 153.53 L433.42 154.52 L433.33 155.52 L433.23 156.51 L433.12 157.51 L433.02 158.50 L432.90 159.50 L432.79 160.49 L432.67 161.48 L432.55 162.47 L432.42 163.47 L432.29 164.46 L432.15 165.45 L432.01 166.44 L431.87 167.43 L431.73 168.42 L431.58 169.41 L431.42 170.39 L431.26 171.38 L431.10 172.37 L430.92 173.35 L430.75 174.34 L430.57 175.32 L430.38 176.30 L430.20 177.28 L430.01 178.27 L429.82 179.25 L429.63 180.23 L429.44 181.21 L429.25 182.19 L429.06 183.18 L428.88 184.16 L428.70 185.14 L428.52 186.13 L428.35 187.11 L428.17 188.09 L428.00 189.08 L427.83 190.07 L427.66 191.05 L427.49 192.04 L427.33 193.02 L427.16 194.01 L426.99 194.99 L426.83 195.98 L426.67 196.97 L426.50 197.95 L426.34 198.94 L426.18 199.93 L426.01 200.91 L425.85 201.90 L425.69 202.89 L425.53 203.87 L425.37 204.86 L425.21 205.85 L425.05 206.84 L424.89 207.82 L424.73 208.81 L424.57 209.80 L424.41 210.78 L424.25 211.77 L424.09 212.76 L423.93 213.75 L423.77 214.73 L423.62 215.72 L423.46 216.71 L423.30 217.70 L423.15 218.68 L423.00 219.67 L422.84 220.66 L422.69 221.65 L422.54 222.64 L422.39 223.63 L422.25 224.62 L422.10 225.61 L421.96 226.60 L421.82 227.59 L421.68 228.58 L421.54 229.57 L421.40 230.56 L421.27 231.55 L421.14 232.54 L421.00 233.53 L420.88 234.52 L420.75 235.51 L420.62 236.51 L420.50 237.50 L420.37 238.49 L420.25 239.48 L420.13 240.47 L420.01 241.47 L419.88 242.46 L419.76 243.45 L419.64 244.45 L419.52 245.44 L419.40 246.43 L419.28 247.42 L419.16 248.42 L419.04 249.41 L418.92 250.40 L418.79 251.39 L418.67 252.39 L418.55 253.38 L418.42 254.37 L418.30 255.36 L418.18 256.36 L418.05 257.35 L417.93 258.34 L417.80 259.33 L417.68 260.32 L417.55 261.32 L417.43 262.31 L417.30 263.30 L417.18 264.28 L417.05 265.27 L416.93 266.25 L416.80 267.22 L416.68 268.19 L416.56 269.15 L416.44 270.10 L416.32 271.05 L416.20 272.00 L416.20 272.00" fill="none" stroke="#000" stroke-width="2.4" stroke-linejoin="round"/>

</g>
<rect x="45.2" y="9.0" width="389.1" height="262.8" fill="none" stroke="#000" stroke-width="1.4"/>
<line x1="313.8" y1="9.0" x2="313.8" y2="271.8" stroke="#000" stroke-width="1.4"/>
<path d="M45.20 9.00v5.0 M45.20 271.80v-5.0 M51.92 9.00v2.9 M51.92 271.80v-2.9 M58.63 9.00v2.9 M58.63 271.80v-2.9 M65.34 9.00v2.9 M65.34 271.80v-2.9 M72.06 9.00v2.9 M72.06 271.80v-2.9 M78.78 9.00v2.9 M78.78 271.80v-2.9 M85.49 9.00v2.9 M85.49 271.80v-2.9 M92.21 9.00v2.9 M92.21 271.80v-2.9 M98.92 9.00v2.9 M98.92 271.80v-2.9 M105.63 9.00v2.9 M105.63 271.80v-2.9 M112.35 9.00v5.0 M112.35 271.80v-5.0 M119.06 9.00v2.9 M119.06 271.80v-2.9 M125.78 9.00v2.9 M125.78 271.80v-2.9 M132.50 9.00v2.9 M132.50 271.80v-2.9 M139.21 9.00v2.9 M139.21 271.80v-2.9 M145.93 9.00v2.9 M145.93 271.80v-2.9 M152.64 9.00v2.9 M152.64 271.80v-2.9 M159.36 9.00v2.9 M159.36 271.80v-2.9 M166.07 9.00v2.9 M166.07 271.80v-2.9 M172.79 9.00v2.9 M172.79 271.80v-2.9 M179.50 9.00v5.0 M179.50 271.80v-5.0 M186.21 9.00v2.9 M186.21 271.80v-2.9 M192.93 9.00v2.9 M192.93 271.80v-2.9 M199.64 9.00v2.9 M199.64 271.80v-2.9 M206.36 9.00v2.9 M206.36 271.80v-2.9 M213.07 9.00v2.9 M213.07 271.80v-2.9 M219.79 9.00v2.9 M219.79 271.80v-2.9 M226.50 9.00v2.9 M226.50 271.80v-2.9 M233.22 9.00v2.9 M233.22 271.80v-2.9 M239.94 9.00v2.9 M239.94 271.80v-2.9 M246.65 9.00v5.0 M246.65 271.80v-5.0 M253.37 9.00v2.9 M253.37 271.80v-2.9 M260.08 9.00v2.9 M260.08 271.80v-2.9 M266.80 9.00v2.9 M266.80 271.80v-2.9 M273.51 9.00v2.9 M273.51 271.80v-2.9 M280.23 9.00v2.9 M280.23 271.80v-2.9 M286.94 9.00v2.9 M286.94 271.80v-2.9 M293.65 9.00v2.9 M293.65 271.80v-2.9 M300.37 9.00v2.9 M300.37 271.80v-2.9 M307.08 9.00v2.9 M307.08 271.80v-2.9 M313.80 9.00v5.0 M313.80 271.80v-5.0 M45.20 9.00h5.0 M313.80 9.00h-5.0 M313.80 9.00h2.2 M434.30 9.00h-2.2 M45.20 17.76h2.7 M313.80 17.76h-2.7 M313.80 17.76h1.4 M434.30 17.76h-1.4 M45.20 26.52h2.7 M313.80 26.52h-2.7 M313.80 26.52h1.4 M434.30 26.52h-1.4 M45.20 35.28h2.7 M313.80 35.28h-2.7 M313.80 35.28h1.4 M434.30 35.28h-1.4 M45.20 44.04h2.7 M313.80 44.04h-2.7 M313.80 44.04h1.4 M434.30 44.04h-1.4 M45.20 52.80h2.7 M313.80 52.80h-2.7 M313.80 52.80h1.4 M434.30 52.80h-1.4 M45.20 61.56h2.7 M313.80 61.56h-2.7 M313.80 61.56h1.4 M434.30 61.56h-1.4 M45.20 70.32h2.7 M313.80 70.32h-2.7 M313.80 70.32h1.4 M434.30 70.32h-1.4 M45.20 79.08h2.7 M313.80 79.08h-2.7 M313.80 79.08h1.4 M434.30 79.08h-1.4 M45.20 87.84h2.7 M313.80 87.84h-2.7 M313.80 87.84h1.4 M434.30 87.84h-1.4 M45.20 96.60h5.0 M313.80 96.60h-5.0 M313.80 96.60h2.2 M434.30 96.60h-2.2 M45.20 105.36h2.7 M313.80 105.36h-2.7 M313.80 105.36h1.4 M434.30 105.36h-1.4 M45.20 114.12h2.7 M313.80 114.12h-2.7 M313.80 114.12h1.4 M434.30 114.12h-1.4 M45.20 122.88h2.7 M313.80 122.88h-2.7 M313.80 122.88h1.4 M434.30 122.88h-1.4 M45.20 131.64h2.7 M313.80 131.64h-2.7 M313.80 131.64h1.4 M434.30 131.64h-1.4 M45.20 140.40h2.7 M313.80 140.40h-2.7 M313.80 140.40h1.4 M434.30 140.40h-1.4 M45.20 149.16h2.7 M313.80 149.16h-2.7 M313.80 149.16h1.4 M434.30 149.16h-1.4 M45.20 157.92h2.7 M313.80 157.92h-2.7 M313.80 157.92h1.4 M434.30 157.92h-1.4 M45.20 166.68h2.7 M313.80 166.68h-2.7 M313.80 166.68h1.4 M434.30 166.68h-1.4 M45.20 175.44h2.7 M313.80 175.44h-2.7 M313.80 175.44h1.4 M434.30 175.44h-1.4 M45.20 184.20h5.0 M313.80 184.20h-5.0 M313.80 184.20h2.2 M434.30 184.20h-2.2 M45.20 192.96h2.7 M313.80 192.96h-2.7 M313.80 192.96h1.4 M434.30 192.96h-1.4 M45.20 201.72h2.7 M313.80 201.72h-2.7 M313.80 201.72h1.4 M434.30 201.72h-1.4 M45.20 210.48h2.7 M313.80 210.48h-2.7 M313.80 210.48h1.4 M434.30 210.48h-1.4 M45.20 219.24h2.7 M313.80 219.24h-2.7 M313.80 219.24h1.4 M434.30 219.24h-1.4 M45.20 228.00h2.7 M313.80 228.00h-2.7 M313.80 228.00h1.4 M434.30 228.00h-1.4 M45.20 236.76h2.7 M313.80 236.76h-2.7 M313.80 236.76h1.4 M434.30 236.76h-1.4 M45.20 245.52h2.7 M313.80 245.52h-2.7 M313.80 245.52h1.4 M434.30 245.52h-1.4 M45.20 254.28h2.7 M313.80 254.28h-2.7 M313.80 254.28h1.4 M434.30 254.28h-1.4 M45.20 263.04h2.7 M313.80 263.04h-2.7 M313.80 263.04h1.4 M434.30 263.04h-1.4 M45.20 271.80h5.0 M313.80 271.80h-5.0 M313.80 271.80h2.2 M434.30 271.80h-2.2 M313.80 9.00v5.0 M313.80 271.80v-5.0 M319.82 9.00v2.9 M319.82 271.80v-2.9 M325.85 9.00v2.9 M325.85 271.80v-2.9 M331.88 9.00v2.9 M331.88 271.80v-2.9 M337.90 9.00v5.0 M337.90 271.80v-5.0 M343.93 9.00v2.9 M343.93 271.80v-2.9 M349.95 9.00v2.9 M349.95 271.80v-2.9 M355.98 9.00v2.9 M355.98 271.80v-2.9 M362.00 9.00v5.0 M362.00 271.80v-5.0 M368.03 9.00v2.9 M368.03 271.80v-2.9 M374.05 9.00v2.9 M374.05 271.80v-2.9 M380.08 9.00v2.9 M380.08 271.80v-2.9 M386.10 9.00v5.0 M386.10 271.80v-5.0 M392.12 9.00v2.9 M392.12 271.80v-2.9 M398.15 9.00v2.9 M398.15 271.80v-2.9 M404.18 9.00v2.9 M404.18 271.80v-2.9 M410.20 9.00v5.0 M410.20 271.80v-5.0 M416.23 9.00v2.9 M416.23 271.80v-2.9 M422.25 9.00v2.9 M422.25 271.80v-2.9 M428.28 9.00v2.9 M428.28 271.80v-2.9 M434.30 9.00v5.0 M434.30 271.80v-5.0" stroke="#000" stroke-width="1.2" fill="none"/>
<g>
<text x="43.6" y="289.7" font-size="12" text-anchor="middle" font-weight="normal" fill="#000" stroke="#000" stroke-width="0.25" font-family="Liberation Sans, sans-serif" textLength="18" lengthAdjust="spacingAndGlyphs" >0.1</text>
<text x="111.65" y="289.7" font-size="12" text-anchor="middle" font-weight="normal" fill="#000" stroke="#000" stroke-width="0.25" font-family="Liberation Sans, sans-serif" textLength="18" lengthAdjust="spacingAndGlyphs" >0.2</text>
<text x="178.8" y="289.7" font-size="12" text-anchor="middle" font-weight="normal" fill="#000" stroke="#000" stroke-width="0.25" font-family="Liberation Sans, sans-serif" textLength="18" lengthAdjust="spacingAndGlyphs" >0.3</text>
<text x="245.95000000000005" y="289.7" font-size="12" text-anchor="middle" font-weight="normal" fill="#000" stroke="#000" stroke-width="0.25" font-family="Liberation Sans, sans-serif" textLength="18" lengthAdjust="spacingAndGlyphs" >0.4</text>
<text x="313.1" y="289.7" font-size="12" text-anchor="middle" font-weight="normal" fill="#000" stroke="#000" stroke-width="0.25" font-family="Liberation Sans, sans-serif" textLength="18" lengthAdjust="spacingAndGlyphs" >0.5</text>
<text x="337.1" y="289.7" font-size="12" text-anchor="middle" font-weight="normal" fill="#000" stroke="#000" stroke-width="0.25" font-family="Liberation Sans, sans-serif" textLength="18" lengthAdjust="spacingAndGlyphs" >0.2</text>
<text x="361.2" y="289.7" font-size="12" text-anchor="middle" font-weight="normal" fill="#000" stroke="#000" stroke-width="0.25" font-family="Liberation Sans, sans-serif" textLength="18" lengthAdjust="spacingAndGlyphs" >0.4</text>
<text x="385.3" y="289.7" font-size="12" text-anchor="middle" font-weight="normal" fill="#000" stroke="#000" stroke-width="0.25" font-family="Liberation Sans, sans-serif" textLength="18" lengthAdjust="spacingAndGlyphs" >0.6</text>
<text x="409.40000000000003" y="289.7" font-size="12" text-anchor="middle" font-weight="normal" fill="#000" stroke="#000" stroke-width="0.25" font-family="Liberation Sans, sans-serif" textLength="18" lengthAdjust="spacingAndGlyphs" >0.8</text>
<text x="433.5" y="289.7" font-size="12" text-anchor="middle" font-weight="normal" fill="#000" stroke="#000" stroke-width="0.25" font-family="Liberation Sans, sans-serif" textLength="18" lengthAdjust="spacingAndGlyphs" >1.0</text>
<text x="40.5" y="16.6" font-size="12" text-anchor="end" font-weight="normal" fill="#000" stroke="#000" stroke-width="0.25" font-family="Liberation Sans, sans-serif" >0</text>
<text x="40" y="101.7" font-size="12" text-anchor="end" font-weight="normal" fill="#000" stroke="#000" stroke-width="0.25" font-family="Liberation Sans, sans-serif" textLength="15.2" lengthAdjust="spacingAndGlyphs" >−1</text>
<text x="40.6" y="189.3" font-size="12" text-anchor="end" font-weight="normal" fill="#000" stroke="#000" stroke-width="0.25" font-family="Liberation Sans, sans-serif" textLength="15.8" lengthAdjust="spacingAndGlyphs" >−2</text>
<text x="40.6" y="272.5" font-size="12" text-anchor="end" font-weight="normal" fill="#000" stroke="#000" stroke-width="0.25" font-family="Liberation Sans, sans-serif" textLength="15.6" lengthAdjust="spacingAndGlyphs" >−3</text>
<text x="373.8" y="304.6" font-size="12" text-anchor="middle" font-weight="normal" fill="#000" stroke="#000" stroke-width="0.25" font-family="Liberation Sans, sans-serif" textLength="56.6" lengthAdjust="spacingAndGlyphs" >Likelihood</text>
<text x="176.5" y="304.2" font-size="11.5" text-anchor="middle" font-weight="bold" fill="#000" stroke="#000" stroke-width="0.25" font-family="Liberation Sans, sans-serif" textLength="9" lengthAdjust="spacingAndGlyphs" >Ω</text>
<text x="183.4" y="309.8" font-size="6.5" text-anchor="middle" font-weight="bold" fill="#000" stroke="#000" stroke-width="0.25" font-family="Liberation Sans, sans-serif" >M</text>
<text x="13.0" y="141" font-size="9.8" text-anchor="middle" font-weight="bold" fill="#000" stroke="#000" stroke-width="0.25" font-family="Liberation Sans, sans-serif" transform="rotate(-90 13.0 141)">w</text>
<text x="386.3" y="225.8" font-size="10.5" text-anchor="end" font-weight="normal" fill="#1a1aff" stroke="#1a1aff" stroke-width="0.25" font-family="Liberation Sans, sans-serif" textLength="18.8" lengthAdjust="spacingAndGlyphs" >LRG</text>
<text x="386.3" y="241.3" font-size="10.5" text-anchor="end" font-weight="normal" fill="#ff1a1a" stroke="#ff1a1a" stroke-width="0.25" font-family="Liberation Sans, sans-serif" textLength="36.8" lengthAdjust="spacingAndGlyphs" >WiggleZ</text>
<text x="386.3" y="257" font-size="10.5" text-anchor="end" font-weight="normal" fill="#000" stroke="#000" stroke-width="0.25" font-family="Liberation Sans, sans-serif" textLength="48.3" lengthAdjust="spacingAndGlyphs" >Combined</text>
</g>
<line x1="389" y1="222.3" x2="399" y2="222.3" stroke="#1a1aff" stroke-width="1.4"/>
<line x1="389" y1="238" x2="399" y2="238" stroke="#ff1a1a" stroke-width="1.4"/>
<line x1="389" y1="253.8" x2="399" y2="253.8" stroke="#000" stroke-width="2.4"/>
</svg>
</body></html>
